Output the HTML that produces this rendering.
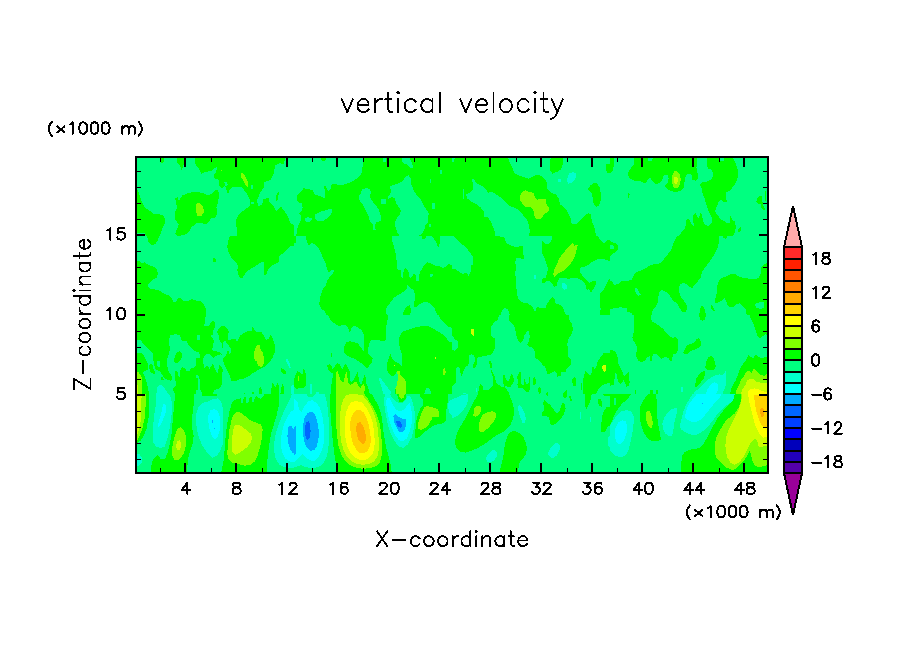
<!DOCTYPE html><html><head><meta charset="utf-8"><title>vertical velocity</title>
<style>html,body{margin:0;padding:0;background:#fff}svg{display:block}</style></head><body>
<svg width="904" height="654" viewBox="0 0 904 654">
<rect width="904" height="654" fill="#fff"/>
<defs>
<clipPath id="t00"><rect x="136" y="157" width="158" height="79"/></clipPath>
<clipPath id="t01"><rect x="136" y="236" width="158" height="79"/></clipPath>
<clipPath id="t02"><rect x="136" y="315" width="158" height="79"/></clipPath>
<clipPath id="t03"><rect x="136" y="394" width="158" height="79"/></clipPath>
<clipPath id="t10"><rect x="294" y="157" width="158" height="79"/></clipPath>
<clipPath id="t11"><rect x="294" y="236" width="158" height="79"/></clipPath>
<clipPath id="t12"><rect x="294" y="315" width="158" height="79"/></clipPath>
<clipPath id="t13"><rect x="294" y="394" width="158" height="79"/></clipPath>
<clipPath id="t20"><rect x="452" y="157" width="158" height="79"/></clipPath>
<clipPath id="t21"><rect x="452" y="236" width="158" height="79"/></clipPath>
<clipPath id="t22"><rect x="452" y="315" width="158" height="79"/></clipPath>
<clipPath id="t23"><rect x="452" y="394" width="158" height="79"/></clipPath>
<clipPath id="t30"><rect x="610" y="157" width="158" height="79"/></clipPath>
<clipPath id="t31"><rect x="610" y="236" width="158" height="79"/></clipPath>
<clipPath id="t32"><rect x="610" y="315" width="158" height="79"/></clipPath>
<clipPath id="t33"><rect x="610" y="394" width="158" height="79"/></clipPath>
</defs>
<g shape-rendering="crispEdges">
<g clip-path="url(#t00)">
<rect x="136" y="157" width="158" height="79" fill="#00ff80"/>
<polygon fill="#00ff00" points="136.0,189.3 138.1,190.2 139.8,196.3 142.1,202.4 144.7,207.7 149.1,210.3 153.5,213.8 162.2,214.7 164.8,218.2 164.8,223.4 162.2,228.7 160.5,233.9 159.6,237.4 146.5,237.4 144.7,233.0 136.0,233.0"/>
<polygon fill="#00ff00" points="175.3,198.1 177.9,197.2 178.8,200.7 182.3,195.5 188.4,192.8 195.4,192.0 202.4,192.8 207.7,195.5 212.0,193.7 215.5,190.2 218.1,189.3 219.0,194.6 218.1,202.4 216.4,207.7 217.3,212.9 215.5,217.3 211.2,218.2 208.5,222.5 205.0,224.3 200.7,222.5 196.3,223.4 191.9,226.9 188.4,232.2 184.9,234.8 177.9,236.0 175.3,233.9 177.1,228.7 178.8,224.3 175.3,219.9 174.8,212.9 177.1,207.7 175.8,202.4"/>
<polygon fill="#80ff00" points="196.8,203.3 199.8,202.8 203.3,206.8 203.8,212.1 201.5,215.6 197.2,215.6 195.8,211.2 195.8,206.8"/>
<polygon fill="#00ff00" points="160.1,157.0 164.0,157.0 163.6,162.2 161.3,163.6 160.1,161.4"/>
<polygon fill="#00ff00" points="176.5,157.0 185.3,157.0 184.9,162.2 183.2,165.7 181.8,170.1 179.7,165.7 177.6,163.1"/>
<polygon fill="#00ff00" points="194.6,157.0 195.4,164.0 198.0,167.5 201.5,173.6 205.0,171.9 211.2,171.0 215.5,167.5 216.7,166.6 216.4,171.9 213.8,174.5 214.7,178.8 218.5,179.7 219.0,185.8 222.5,188.5 225.1,185.8 226.9,191.1 227.8,194.6 229.5,190.2 231.3,187.6 240.9,186.7 243.5,189.3 246.1,192.8 248.7,197.2 250.5,201.6 249.6,205.9 246.1,208.6 241.7,212.1 238.2,215.6 235.6,220.8 236.5,226.9 237.4,232.2 236.5,237.4 295.0,237.4 295.0,226.0 289.8,222.5 288.1,216.4 284.6,211.2 281.1,206.8 278.4,209.4 275.8,211.2 274.1,206.8 269.7,202.4 268.8,198.1 263.6,198.9 261.8,205.1 258.3,205.9 256.6,200.7 258.3,197.2 260.1,192.8 263.6,187.6 264.5,182.3 270.6,179.7 274.1,172.7 274.9,165.7 279.3,163.1 283.7,164.0 285.4,157.0"/>
<polygon fill="#00ff80" points="224.3,182.3 227.2,182.3 227.8,185.3 225.1,185.8"/>
<polygon fill="#00ff80" points="251.4,185.0 252.8,185.0 252.8,189.3 251.4,189.3"/>
<polygon fill="#00ff80" points="251.4,201.6 254.0,201.6 254.0,204.2 251.4,204.2"/>
<polygon fill="#80ff00" points="240.9,173.1 243.0,172.7 246.1,178.0 247.9,182.3 247.9,186.7 246.1,186.4 244.0,181.5 241.4,177.6"/>
<polygon fill="#80ff00" points="220.8,169.6 222.0,169.6 222.0,171.0 220.8,171.0"/>
<polygon fill="#00ff00" points="275.8,197.2 277.9,192.0 279.0,192.8 277.6,199.8 275.8,201.6"/>
</g>
<g clip-path="url(#t01)">
<rect x="136" y="236" width="158" height="79" fill="#00ff80"/>
<polygon fill="#00ff00" points="146.5,235.1 159.1,235.1 157.8,240.4 155.2,244.4 151.7,244.7 148.6,242.1"/>
<polygon fill="#00ff00" points="135.1,260.5 139.5,261.3 142.1,263.1 144.7,262.2 148.2,264.8 153.5,266.6 157.0,269.2 157.8,273.6 156.6,277.9 152.6,279.7 150.0,282.3 147.9,284.9 149.1,288.4 153.5,289.3 158.7,290.2 164.0,293.7 169.2,295.4 171.8,298.9 173.6,302.1 176.2,301.5 177.9,298.6 180.6,298.0 183.2,300.7 188.4,301.0 191.9,299.3 195.4,300.3 200.7,301.5 204.2,305.0 205.9,309.4 205.9,316.4 135.1,316.4"/>
<polygon fill="#00ff00" points="212.4,258.7 214.7,257.8 216.4,259.6 215.5,261.9 212.9,261.9"/>
<polygon fill="#00ff00" points="230.4,235.1 295.0,235.1 295.0,245.6 289.8,246.5 286.3,250.0 282.8,253.5 279.3,256.1 279.0,261.3 275.8,264.0 272.3,264.8 269.7,267.5 267.4,271.0 266.2,275.3 264.5,275.3 263.6,271.0 263.9,262.2 261.0,262.2 257.5,264.8 253.1,267.5 248.7,270.1 245.2,273.6 242.6,277.9 240.0,277.6 237.7,273.6 237.4,269.2 238.2,265.7 235.6,262.2 233.0,259.6 230.4,256.1 228.3,251.7 227.2,246.5 228.3,240.4"/>
</g>
<g clip-path="url(#t02)">
<rect x="136" y="315" width="158" height="79" fill="#00ff80"/>
<polygon fill="#00ff00" points="135.1,314.1 205.9,314.1 205.0,320.2 204.2,325.8 207.7,326.5 210.3,323.7 212.9,321.1 215.5,322.0 214.7,327.2 212.6,331.6 212.9,337.7 213.8,343.8 212.9,349.1 208.5,352.6 205.0,355.2 203.3,359.6 202.8,365.7 197.2,365.7 195.1,359.6 195.1,354.3 196.3,349.1 198.0,344.7 196.3,341.2 197.2,336.8 195.4,338.6 192.8,343.0 190.2,346.5 187.6,343.8 185.8,341.2 181.4,338.6 178.8,335.1 175.3,334.2 171.0,335.6 168.9,339.5 168.3,343.0 165.7,345.6 162.2,347.3 158.7,349.1 155.2,352.6 152.6,356.1 148.2,354.3 144.7,351.7 141.2,345.6 138.6,341.2 135.1,339.5"/>
<polygon fill="#00ff00" points="135.1,350.0 139.5,352.6 143.0,355.2 144.7,359.6 145.1,365.7 144.4,370.9 142.1,372.7 139.5,371.8 135.1,370.9"/>
<polygon fill="#00ff00" points="149.1,364.8 151.7,363.9 153.5,367.4 155.2,372.7 152.6,373.6 150.0,370.9"/>
<polygon fill="#00ff00" points="153.5,357.8 157.0,360.4 159.6,362.2 158.7,366.6 156.1,365.7 154.4,363.1"/>
<polygon fill="#00ff00" points="174.8,352.6 177.9,350.8 181.1,351.7 182.3,356.1 181.1,360.4 177.9,363.1 174.5,362.5 173.6,357.8"/>
<polygon fill="#00ff00" points="178.8,367.4 181.8,366.6 185.8,368.3 188.4,371.8 191.6,369.2 193.7,365.7 196.3,363.1 197.5,367.4 197.2,375.3 197.5,384.9 198.0,395.4 173.6,395.4 173.6,386.7 175.8,382.8 177.1,377.0 177.9,372.7"/>
<polygon fill="#00ff00" points="199.8,395.4 199.3,384.9 199.8,376.2 201.0,370.9 203.3,367.4 205.6,368.3 208.0,365.7 210.3,367.4 212.6,364.3 214.3,367.4 215.5,371.8 217.8,372.7 219.0,368.3 220.2,365.7 222.5,367.4 223.0,374.4 222.0,380.5 219.9,384.9 215.5,388.4 212.9,391.9 212.6,395.4"/>
<polygon fill="#00ff00" points="217.3,331.6 219.0,328.1 222.5,325.8 226.0,326.9 228.6,330.7 228.3,337.7 226.9,340.9 224.3,342.1 224.3,354.3 223.0,354.3 223.0,341.2 220.8,339.5 218.1,336.0"/>
<polygon fill="#00ff00" points="226.9,341.2 229.5,340.3 233.9,339.5 237.4,337.7 240.9,335.1 245.2,332.1 247.9,331.1 251.4,331.6 252.8,326.4 254.0,329.0 256.6,332.5 261.0,331.6 263.6,335.1 266.2,340.3 268.8,338.6 270.6,335.1 272.3,337.7 274.1,342.1 275.5,347.3 274.4,353.5 272.0,358.7 268.8,363.1 265.3,366.6 261.0,368.3 256.6,370.9 252.2,374.4 247.9,377.0 242.6,378.8 236.5,380.5 232.1,379.7 229.5,375.3 226.9,369.2 224.3,363.9 223.0,359.6 225.1,356.1 226.9,352.6 228.6,349.1 230.4,345.6 228.3,343.8"/>
<polygon fill="#80ff00" points="255.7,347.3 257.5,345.1 259.7,345.1 260.4,349.1 262.7,352.6 263.9,357.8 263.6,363.9 261.5,367.1 258.3,365.7 256.6,361.3 254.5,357.8 254.5,352.6"/>
<polygon fill="#00ff00" points="281.1,368.3 283.7,369.2 286.0,371.8 285.4,374.4 282.8,373.6 281.1,370.9"/>
<polygon fill="#00ff00" points="258.3,395.4 259.2,388.4 260.4,386.7 261.8,389.3 262.2,395.4"/>
<polygon fill="#00ff00" points="270.6,395.4 271.5,388.4 272.3,382.3 273.7,384.0 274.9,387.5 276.7,384.9 277.9,382.3 279.0,386.7 278.4,395.4"/>
<polygon fill="#00ff00" points="280.2,395.4 281.1,388.4 282.5,384.0 283.7,386.7 284.2,395.4"/>
<polygon fill="#00ffcc" points="285.4,357.8 287.7,359.6 289.8,363.1 290.7,367.4 289.5,368.3 287.7,364.8 286.0,361.3"/>
<polygon fill="#00ffcc" points="291.2,385.8 295.0,384.0 295.0,395.4 290.7,395.4"/>
<polygon fill="#00ff00" points="135.1,370.9 142.1,372.7 144.7,376.2 146.1,381.4 146.8,388.4 147.4,395.4 135.1,395.4"/>
<polygon fill="#80ff00" points="135.1,372.3 138.6,373.6 140.9,377.0 142.1,382.3 142.1,388.4 141.2,395.4 135.1,395.4"/>
<polygon fill="#ccff00" points="135.1,384.0 138.1,384.9 139.1,389.3 138.6,395.4 135.1,395.4"/>
<polygon fill="#00ffcc" points="157.8,385.8 161.3,384.6 164.0,386.7 165.4,391.0 164.8,395.4 157.3,395.4"/>
<polygon fill="#00ff00" points="160.5,377.0 163.1,377.9 164.0,380.5 161.3,381.1"/>
</g>
<g clip-path="url(#t03)">
<rect x="136" y="394" width="158" height="79" fill="#00ff80"/>
<polygon fill="#00ff00" points="135.1,393.1 149.5,393.1 149.2,406.2 148.5,418.3 146.4,429.3 143.4,436.6 140.4,440.8 136.7,443.3 135.1,444.7"/>
<polygon fill="#00ff00" points="175.3,393.1 194.6,393.1 194.0,401.0 193.3,408.0 192.3,415.0 191.6,422.0 192.3,429.0 193.7,435.9 192.8,442.9 190.5,449.9 188.4,456.9 187.6,463.9 187.0,474.4 150.9,474.4 151.4,465.7 152.6,460.4 155.2,456.9 157.8,455.2 160.5,458.7 164.8,459.0 167.5,453.4 169.2,446.4 170.6,439.4 171.8,432.5 172.4,425.5 172.7,418.5 173.6,411.5 174.1,404.5 174.8,399.2"/>
<polygon fill="#00ff00" points="201.5,393.1 217.3,393.1 216.4,396.1 202.4,396.4"/>
<polygon fill="#00ff00" points="231.3,404.5 233.0,401.0 236.5,399.2 240.5,398.4 241.4,402.7 243.0,402.7 243.7,397.5 245.8,397.1 246.5,402.7 248.2,403.6 249.3,397.8 251.4,396.6 252.2,401.9 253.5,402.4 254.8,397.5 256.6,395.7 258.3,397.5 260.4,399.2 262.7,396.6 265.3,393.1 279.3,393.1 279.0,404.5 276.7,415.0 274.1,423.7 271.5,432.5 269.7,441.2 268.5,449.9 267.4,460.4 267.1,474.4 220.8,474.4 223.0,463.9 224.3,455.2 224.8,446.4 225.5,437.7 226.5,429.0 227.8,420.2 229.5,411.5"/>
<polygon fill="#80ff00" points="135.1,393.1 145.8,393.1 145.6,406.2 144.6,418.3 142.2,429.3 139.1,436.6 136.7,441.5 135.1,442.1"/>
<polygon fill="#80ff00" points="177.9,428.1 181.1,427.2 183.5,429.8 185.3,434.2 186.3,440.3 185.8,446.4 184.1,452.6 181.4,456.9 177.9,460.4 174.5,459.5 172.4,456.0 171.8,450.8 172.7,444.7 174.1,438.6 175.8,432.5"/>
<polygon fill="#80ff00" points="235.6,412.4 239.1,411.5 242.6,414.1 247.0,417.6 251.4,421.1 256.6,422.8 261.0,424.6 262.7,429.0 262.2,435.9 261.0,442.9 259.2,449.9 257.5,456.0 254.8,461.3 250.5,464.8 244.4,465.7 238.2,463.9 232.1,463.0 228.6,459.5 227.2,454.3 227.8,446.4 228.6,437.7 229.5,429.0 231.3,421.1 233.0,415.8"/>
<polygon fill="#ccff00" points="135.1,394.9 141.6,395.4 141.2,406.2 141.0,418.3 139.7,426.9 137.3,434.8 135.1,436.8"/>
<polygon fill="#ccff00" points="177.1,441.2 179.7,440.3 181.4,442.9 181.1,447.3 179.3,449.9 177.1,449.6 175.8,446.4"/>
<polygon fill="#ccff00" points="234.8,425.5 238.2,424.6 241.7,426.3 246.1,429.8 250.5,433.3 252.2,437.7 250.5,442.9 247.0,447.3 242.6,450.8 238.2,453.4 234.8,454.8 232.5,451.7 231.8,445.6 232.1,437.7 233.0,430.7"/>
<polygon fill="#00ffcc" points="156.3,393.1 168.3,393.1 171.0,398.4 172.4,404.5 171.8,413.2 170.6,422.0 169.2,430.7 167.1,439.4 164.8,446.4 160.5,448.2 156.1,446.4 153.1,442.1 152.6,435.1 153.1,427.2 153.8,418.5 154.9,410.6 156.1,403.6"/>
<polygon fill="#00ffcc" points="196.3,413.2 198.9,406.2 203.3,402.7 207.7,401.9 212.9,399.2 218.1,398.4 221.6,402.7 223.0,409.7 223.4,418.5 223.0,427.2 223.4,435.9 222.5,444.7 219.9,451.7 216.4,456.0 212.9,457.8 209.4,455.2 205.9,450.8 202.4,445.6 199.3,438.6 197.2,430.7 195.8,422.0"/>
<polygon fill="#00ffcc" points="295.0,393.1 292.0,393.1 290.2,398.9 287.2,405.0 284.1,411.0 281.1,418.3 278.1,425.6 275.6,434.1 274.2,442.7 274.2,451.2 275.6,458.5 279.3,464.6 284.1,467.0 289.0,468.2 295.0,468.5"/>
<polygon fill="#00ffcc" points="135.1,453.4 139.5,454.3 142.1,457.8 141.6,463.0 138.6,465.7 135.1,466.0"/>
<polygon fill="#00ffff" points="162.9,403.7 166.5,405.0 165.9,412.2 162.9,419.6 160.4,425.6 158.2,426.9 158.6,422.0 161.0,414.7 162.3,408.6"/>
<polygon fill="#00ffff" points="210.3,410.6 213.8,408.9 217.3,410.6 219.5,415.8 220.2,422.8 219.9,429.8 218.1,435.9 215.5,439.1 212.9,437.7 210.8,433.3 209.1,427.2 208.0,420.2 208.5,415.0"/>
<polygon fill="#00ffff" points="295.0,409.8 291.4,411.0 288.4,415.3 285.4,420.8 282.9,428.1 281.1,436.6 280.7,445.1 282.3,452.4 285.4,458.5 289.6,461.5 295.0,462.2"/>
<polygon fill="#00aaff" points="295.0,427.7 293.3,428.7 291.2,425.9 289.0,425.4 287.8,429.3 287.4,436.6 288.4,443.9 290.2,449.4 292.7,453.0 295.0,454.3"/>
<polygon fill="#00aaff" points="211.5,420.2 212.9,420.2 212.9,422.8 211.5,422.8"/>
<polygon fill="#00aaff" points="213.8,427.6 215.0,427.6 215.0,429.0 213.8,429.0"/>
</g>
<g clip-path="url(#t10)">
<rect x="294" y="157" width="158" height="79" fill="#00ff00"/>
<polygon fill="#00ff80" points="293.1,157.0 363.0,157.0 362.5,167.5 361.3,174.5 357.8,178.0 353.4,180.6 348.2,183.2 342.9,185.0 337.7,184.6 331.6,184.1 330.7,188.5 328.1,191.1 325.5,185.8 324.1,186.7 325.1,192.0 324.6,198.1 320.2,196.3 315.0,194.6 312.4,190.2 308.9,189.3 303.6,188.1 301.0,192.0 297.5,194.6 297.1,200.7 299.2,203.3 301.9,202.8 302.7,207.7 301.3,211.5 298.4,213.3 301.3,216.1 300.6,220.8 297.8,226.0 297.1,231.3 295.7,237.4 293.1,237.4"/>
<polygon fill="#00ff00" points="320.2,157.0 326.3,157.0 325.5,160.5 322.0,160.8"/>
<polygon fill="#00ff80" points="315.0,214.7 318.5,212.9 322.0,211.2 326.3,210.3 329.8,208.6 331.6,208.6 332.5,212.1 329.8,215.6 327.2,218.2 323.7,220.8 318.5,221.3 315.3,219.0"/>
<polygon fill="#00ff80" points="304.5,218.2 308.0,217.3 311.5,218.2 312.4,219.9 308.9,222.0 305.4,221.3"/>
<polygon fill="#00ff80" points="362.2,189.3 365.7,188.1 369.2,188.8 370.9,192.0 370.0,197.2 372.7,201.6 376.1,205.9 378.8,209.4 380.5,214.7 380.5,220.8 376.1,222.5 374.7,226.0 375.8,230.4 373.5,229.5 372.7,224.3 370.0,221.7 368.8,216.4 366.0,211.2 363.9,206.8 361.8,203.3 359.0,199.8 359.5,195.5 361.3,192.0"/>
<polygon fill="#00ff80" points="380.9,198.6 385.8,198.6 385.8,203.8 380.9,203.8"/>
<polygon fill="#00ff80" points="405.9,176.2 408.5,175.4 410.8,178.8 411.5,185.0 413.7,190.2 416.3,194.6 420.7,198.9 423.3,204.2 426.0,209.4 428.6,212.9 428.2,221.7 425.1,226.0 424.2,230.4 421.6,233.9 416.3,237.4 400.6,237.4 397.1,232.2 395.4,226.9 395.0,221.7 397.1,217.3 399.7,214.7 401.0,210.3 398.9,207.7 396.2,203.3 394.5,198.1 391.9,197.2 388.4,198.9 387.5,197.2 390.1,194.6 391.0,190.2 389.8,186.7 393.6,185.0 398.9,183.2 403.2,180.6"/>
<polygon fill="#00ff80" points="382.3,157.0 386.6,157.0 386.3,161.4 383.5,161.9"/>
<polygon fill="#00ff80" points="401.5,157.0 408.5,157.0 411.1,160.5 412.8,165.7 413.7,168.4 410.2,167.5 407.3,164.3 403.8,163.6 402.0,161.4"/>
<polygon fill="#00ff80" points="439.9,170.1 441.7,170.1 441.7,173.6 439.9,173.6"/>
<polygon fill="#00ff80" points="429.5,178.8 431.2,178.8 431.2,183.2 429.5,183.2"/>
<polygon fill="#00ff80" points="432.1,203.3 434.7,203.3 434.7,209.4 432.1,209.4"/>
<polygon fill="#00ff80" points="428.6,224.3 431.2,224.3 431.2,226.9 428.6,226.9"/>
</g>
<g clip-path="url(#t11)">
<rect x="294" y="236" width="158" height="79" fill="#00ff00"/>
<polygon fill="#00ff80" points="293.1,243.0 295.7,243.0 295.7,235.1 306.2,235.1 306.6,241.2 308.9,245.6 311.5,243.0 315.0,243.9 318.5,248.2 321.1,252.6 322.8,257.8 325.5,263.1 327.2,269.2 329.0,272.7 331.6,270.1 333.8,270.1 333.3,273.6 329.8,277.1 327.2,280.6 325.5,285.8 322.8,289.3 321.1,293.7 319.9,298.9 319.3,304.2 321.1,308.5 324.6,311.2 327.2,316.4 293.1,316.4"/>
<polygon fill="#00ff80" points="391.9,235.1 421.6,235.1 422.5,238.6 425.1,239.5 426.8,235.1 430.3,235.1 433.8,238.6 436.4,243.0 438.2,248.2 439.9,243.0 439.9,235.1 453.0,235.1 453.0,265.7 448.7,264.0 446.1,266.6 442.6,268.3 439.1,265.7 435.6,265.7 432.1,264.0 427.7,262.2 424.2,264.8 422.5,268.3 419.8,271.8 419.0,277.1 418.4,281.4 416.3,281.4 415.5,275.3 413.7,273.6 411.1,277.9 409.4,277.1 408.5,271.8 405.9,268.3 404.1,269.2 403.2,273.6 402.7,277.9 401.0,276.2 400.6,270.1 397.1,269.2 397.5,264.0 396.2,258.7 395.4,252.6 394.0,246.5 392.2,241.2"/>
<polygon fill="#00ff80" points="386.6,316.4 386.3,308.5 388.4,305.0 391.0,301.5 394.5,297.2 398.9,294.6 403.2,291.9 406.7,289.3 407.6,284.9 410.2,287.6 413.7,290.2 414.9,294.6 414.6,300.7 413.7,307.7 416.3,306.8 419.8,304.2 424.2,302.1 427.7,302.4 432.1,305.0 434.7,308.5 436.4,312.9 437.3,316.4"/>
<polygon fill="#00ff00" points="402.4,316.4 404.1,310.3 406.7,306.8 409.4,305.0 410.8,309.4 410.2,316.4"/>
<polygon fill="#00ff80" points="430.0,274.1 432.9,273.6 432.9,276.2 430.3,277.1"/>
</g>
<g clip-path="url(#t12)">
<rect x="294" y="315" width="158" height="79" fill="#00ff80"/>
<polygon fill="#00ff00" points="328.1,314.1 388.4,314.1 387.5,320.2 386.3,325.5 385.8,331.6 386.3,337.7 384.9,341.2 381.0,340.9 376.1,339.5 371.8,339.5 369.5,343.0 368.3,348.2 367.8,352.6 364.8,354.3 363.9,346.5 364.3,339.5 363.6,334.2 361.3,329.9 357.8,327.2 354.3,325.5 351.3,328.1 349.9,332.5 348.5,329.0 346.4,325.5 342.9,324.6 339.4,326.4 335.1,323.7 331.6,321.1 329.0,317.6"/>
<polygon fill="#00ff00" points="346.4,342.1 349.9,341.2 354.3,342.1 358.3,343.8 361.3,348.2 363.9,351.7 367.4,352.6 370.9,356.1 372.7,358.7 371.8,362.2 369.2,365.7 367.1,368.3 364.3,366.0 361.3,363.1 357.8,360.8 354.3,358.7 349.9,356.9 346.1,355.2 343.8,351.7 344.3,346.5"/>
<polygon fill="#00ff00" points="438.2,314.1 453.0,314.1 453.0,328.1 447.8,326.4 444.3,322.9 440.8,319.4"/>
<polygon fill="#00ff00" points="398.9,337.7 402.4,331.6 407.6,329.9 412.8,328.1 418.1,326.9 423.3,325.5 428.6,326.4 433.8,329.0 438.2,331.6 442.6,334.2 446.1,337.7 448.7,341.2 453.0,343.0 453.0,395.4 431.2,395.4 430.3,390.2 428.6,388.1 426.0,388.4 424.7,391.9 424.2,395.4 395.4,395.4 395.4,388.4 397.1,384.0 398.0,377.9 397.1,370.9 394.5,375.3 391.9,376.2 389.3,373.6 387.0,370.9 386.6,365.7 388.0,360.4 389.3,356.1 390.5,353.5 391.9,357.8 394.5,361.3 398.9,363.1 401.5,365.7 402.4,360.4 402.0,354.3 400.3,349.1 398.9,343.8"/>
<polygon fill="#80ff00" points="397.1,371.3 399.7,371.3 400.6,375.3 403.8,378.3 405.9,381.4 406.2,388.4 405.9,395.4 396.2,395.4 395.4,388.4 397.1,384.0 398.0,377.9"/>
<polygon fill="#80ff00" points="442.9,369.2 444.7,368.3 445.7,371.8 445.2,375.3 442.9,374.4"/>
<polygon fill="#ccff00" points="434.7,356.9 435.9,356.9 435.9,358.7 434.7,358.7"/>
<polygon fill="#ccff00" points="393.6,364.8 395.0,364.8 395.0,366.0 393.6,366.0"/>
<polygon fill="#00ff00" points="327.2,365.7 329.8,363.9 331.6,366.6 332.8,369.2 335.1,365.7 336.8,363.1 339.8,363.9 340.8,367.4 342.9,369.2 344.3,364.8 346.1,364.3 347.8,367.4 349.6,370.9 349.9,377.9 350.8,382.3 353.4,380.5 356.0,375.3 357.3,370.9 358.3,375.3 359.0,381.4 361.3,384.9 363.0,379.7 364.3,374.4 365.7,377.9 366.5,384.0 368.3,388.4 370.0,395.4 330.4,395.4 331.1,388.4 331.6,383.2 332.5,377.9 333.3,373.6 330.7,372.7 328.1,370.1"/>
<polygon fill="#80ff00" points="335.6,372.7 337.3,370.9 339.1,375.3 340.8,380.5 343.3,382.3 345.0,376.2 346.1,370.9 347.3,375.3 347.8,382.3 349.9,384.9 353.4,383.2 356.0,381.4 357.8,384.9 360.1,388.4 362.5,384.9 364.3,384.0 364.8,389.3 363.9,395.4 335.9,395.4 335.6,388.4 335.9,381.4"/>
<polygon fill="#00ff00" points="293.1,381.4 295.7,374.4 297.5,371.3 300.1,372.7 302.4,374.4 303.1,369.2 304.5,370.1 305.9,374.4 306.2,381.4 305.4,386.7 302.7,388.4 299.2,388.1 296.6,389.3 293.1,384.9"/>
<polygon fill="#80ff00" points="297.8,376.2 299.2,376.2 299.2,380.5 297.8,380.5"/>
<polygon fill="#00ff00" points="330.7,352.6 332.1,352.6 332.1,356.9 330.7,356.9"/>
<polygon fill="#00ffcc" points="378.8,377.9 380.5,377.6 383.1,381.4 385.8,384.9 388.4,388.4 391.0,391.9 391.9,395.4 383.1,395.4 382.3,389.3 380.5,384.0 379.3,380.5"/>
<polygon fill="#00ffcc" points="310.1,384.0 311.8,384.0 312.4,395.4 309.7,395.4"/>
<polygon fill="#00ffcc" points="315.8,391.9 319.3,391.9 319.3,395.4 315.8,395.4"/>
</g>
<g clip-path="url(#t13)">
<rect x="294" y="394" width="158" height="79" fill="#00ff80"/>
<polygon fill="#00ff00" points="329.8,393.1 371.8,393.1 374.4,399.2 377.9,404.5 380.5,411.5 382.3,420.2 383.1,429.0 384.5,437.7 385.8,446.4 388.4,455.2 390.5,463.9 391.9,474.4 337.7,474.4 336.3,465.7 335.1,458.7 333.8,449.9 332.8,441.2 332.1,432.5 331.1,422.0 330.4,411.5 329.8,402.7"/>
<polygon fill="#80ff00" points="335.9,393.1 363.9,393.1 369.2,401.0 373.5,408.0 377.0,415.0 379.6,423.7 381.0,432.5 381.7,441.2 382.3,449.9 381.4,456.9 379.6,463.0 375.3,466.5 369.2,468.3 362.2,468.8 355.2,467.4 349.1,464.8 344.7,460.4 341.2,454.3 338.6,446.4 337.3,437.7 336.5,429.0 335.9,420.2 335.9,411.5 335.9,402.7"/>
<polygon fill="#ccff00" points="346.4,394.9 353.4,394.0 362.2,394.9 367.4,401.0 371.8,408.0 374.7,415.0 377.0,423.7 378.2,432.5 378.8,441.2 378.8,449.9 377.5,456.0 374.4,461.3 369.2,463.9 363.0,464.8 356.9,463.9 351.7,461.3 347.3,456.9 343.8,450.8 341.5,442.9 340.3,434.2 339.8,425.5 339.8,416.7 340.8,408.0 342.9,400.1"/>
<polygon fill="#ffff00" points="351.7,401.9 356.9,401.0 362.2,402.7 366.5,408.0 370.0,415.0 372.7,422.8 374.0,431.6 374.7,440.3 374.4,448.2 372.3,454.3 368.8,458.3 363.9,460.1 358.7,459.5 354.3,456.9 350.3,452.6 347.3,446.4 345.6,438.6 344.7,429.8 344.7,421.1 346.1,412.4 348.5,406.2"/>
<polygon fill="#ffd400" points="355.2,410.6 359.5,409.7 363.6,412.4 366.5,417.6 368.8,424.6 370.2,432.5 370.9,440.3 370.0,446.4 367.4,451.3 363.6,453.4 359.5,452.6 356.0,449.1 353.1,443.8 351.3,436.8 350.3,429.0 350.3,422.0 351.7,415.8"/>
<polygon fill="#ffaa00" points="357.8,422.8 360.4,422.3 363.0,425.5 364.8,430.7 366.0,436.8 365.7,441.2 363.9,443.8 361.3,443.3 358.7,440.3 356.9,435.1 356.0,429.0 356.6,425.1"/>
<polygon fill="#00ffcc" points="290.0,393.1 305.8,393.1 308.2,397.0 313.1,397.0 315.6,393.1 324.7,393.1 326.5,401.3 328.3,412.2 328.9,424.4 329.2,436.6 328.3,448.8 326.5,457.3 323.5,463.4 318.6,467.0 311.9,468.2 305.8,467.0 301.0,465.2 296.1,467.0 290.0,468.2"/>
<polygon fill="#00ffff" points="290.0,401.3 293.7,398.9 297.3,401.3 299.1,409.8 301.6,412.2 304.6,406.2 308.2,401.3 311.9,400.1 316.2,402.5 319.8,407.4 322.2,414.7 323.5,424.4 324.1,434.1 323.5,443.9 321.6,451.2 318.6,457.3 314.3,460.9 309.5,460.3 305.2,456.7 302.2,453.6 299.7,457.3 296.1,460.9 290.0,463.4"/>
<polygon fill="#00aaff" points="293.1,427.7 294.5,427.2 295.5,425.5 296.1,430.5 296.3,442.7 296.1,452.4 294.9,455.5 293.1,454.3"/>
<polygon fill="#00aaff" points="304.8,416.7 308.0,412.9 311.5,411.8 315.0,414.1 317.1,420.2 318.5,429.0 318.5,437.7 317.1,445.6 314.1,450.3 310.1,450.8 306.6,447.3 304.1,441.2 303.1,433.3 303.1,424.6"/>
<polygon fill="#0066ff" points="305.9,422.8 308.3,421.1 310.1,423.7 310.6,430.7 310.1,436.8 308.3,439.8 306.2,439.1 305.0,434.2 304.8,428.1"/>
<polygon fill="#00ffcc" points="384.9,393.1 389.3,393.1 391.9,397.5 395.4,401.0 399.7,403.6 403.2,402.7 405.9,399.2 407.6,395.7 410.8,396.6 412.8,402.7 414.6,411.5 414.9,420.2 413.7,429.0 411.5,437.7 407.6,444.7 403.2,447.8 398.5,446.4 394.5,441.2 391.0,434.2 388.4,426.3 386.3,417.6 384.9,408.9 384.0,401.0"/>
<polygon fill="#00ffff" points="386.6,397.5 389.8,398.4 392.2,403.6 395.4,408.9 399.7,411.5 404.1,409.7 407.3,405.4 409.4,402.7 411.1,407.1 412.0,415.0 411.5,423.7 409.7,431.6 406.7,438.6 402.7,441.5 398.9,440.3 395.0,435.1 391.9,428.1 389.3,420.2 387.5,412.4 386.3,404.5"/>
<polygon fill="#00aaff" points="393.3,415.8 395.4,414.1 398.5,416.7 402.4,418.5 405.5,419.3 405.9,424.6 405.0,429.8 402.0,432.5 398.9,431.6 396.8,428.1 394.5,422.8"/>
<polygon fill="#0066ff" points="396.2,421.6 398.5,420.6 401.0,422.3 402.0,425.5 401.0,427.6 398.5,427.2 396.8,425.1"/>
<polygon fill="#00ff00" points="414.6,437.7 415.5,429.0 416.3,420.2 418.4,413.2 420.7,408.0 423.3,404.5 422.5,399.2 419.8,395.7 419.8,393.1 447.8,393.1 447.5,402.7 446.1,411.5 445.7,420.2 444.3,422.8 440.8,423.7 436.4,424.6 432.1,426.3 428.6,429.0 425.1,431.6 421.6,435.1 418.1,437.7"/>
<polygon fill="#80ff00" points="424.2,407.1 427.7,406.2 432.1,407.1 437.3,408.9 439.1,411.5 438.7,416.7 435.9,417.6 432.9,416.7 431.2,420.2 428.6,424.6 425.1,428.1 421.6,429.8 418.4,429.0 417.7,425.5 419.0,420.2 420.7,415.0 422.5,410.6"/>
<polygon fill="#00ffcc" points="448.7,401.0 453.0,399.2 453.0,415.8 449.6,413.2 448.2,408.0"/>
<polygon fill="#00ff00" points="397.1,393.1 406.7,393.1 405.9,398.4 403.2,401.9 399.7,401.9 398.0,398.4"/>
<polygon fill="#80ff00" points="398.9,393.1 405.0,393.1 403.8,397.8 401.0,398.9 399.4,396.6"/>
</g>
<g clip-path="url(#t20)">
<rect x="452" y="157" width="158" height="79" fill="#00ff00"/>
<polygon fill="#00ff80" points="472.1,179.7 473.8,178.8 476.5,183.2 481.7,185.8 486.1,189.3 487.8,192.8 492.2,192.0 496.6,194.6 501.8,198.1 506.2,202.4 509.7,205.9 514.9,207.7 519.3,210.3 522.8,214.7 527.2,219.9 528.9,225.2 529.8,230.4 528.9,237.4 494.8,237.4 494.8,232.2 493.1,226.9 490.5,220.8 487.8,217.3 483.8,217.3 483.5,211.2 480.8,207.7 476.5,204.2 471.2,201.6 466.9,198.1 466.3,194.6 469.5,192.8 473.3,189.3 473.0,185.0"/>
<polygon fill="#00ff80" points="507.9,157.0 509.7,162.2 512.3,167.5 514.0,172.7 518.4,175.4 523.7,177.1 528.9,178.8 533.3,176.2 536.8,174.5 540.3,175.4 543.8,178.0 546.4,181.5 547.3,188.5 551.6,192.8 556.0,194.6 559.0,198.9 560.0,204.2 564.7,207.7 568.2,212.9 570.8,218.2 571.7,224.3 576.1,224.3 580.5,219.9 584.0,216.4 588.3,212.9 590.9,214.7 591.8,221.7 594.4,226.9 596.2,237.4 611.0,237.4 611.0,157.0"/>
<polygon fill="#00ff80" points="462.8,189.3 464.2,189.3 464.2,198.9 462.8,198.9"/>
<polygon fill="#00ff80" points="452.0,158.4 454.6,158.4 454.1,162.2 452.0,162.2"/>
<polygon fill="#00ff00" points="550.8,157.0 563.0,157.0 563.0,164.0 561.2,169.2 556.9,171.9 552.5,173.6 550.2,171.0 549.9,164.0"/>
<polygon fill="#00ff00" points="587.5,189.3 590.1,185.8 593.6,183.2 596.7,183.2 599.7,187.6 600.9,193.7 600.6,200.7 598.8,205.9 596.2,206.8 593.6,203.3 592.7,198.1 591.8,192.8 589.2,191.1"/>
<polygon fill="#00ff00" points="606.2,164.0 611.0,164.0 611.0,173.6 607.6,172.7 605.8,169.2"/>
<polygon fill="#00ffcc" points="569.1,173.6 572.6,172.4 575.7,172.7 576.1,176.2 574.3,180.6 571.7,183.2 568.2,183.6 567.0,180.6 567.7,177.1"/>
<polygon fill="#00ffcc" points="558.3,178.8 561.2,178.8 561.2,181.5 558.3,181.5"/>
<polygon fill="#80ff00" points="519.8,196.3 521.9,192.0 525.4,190.2 528.9,192.0 533.3,192.8 535.0,197.2 537.6,199.8 541.1,198.6 545.5,198.9 546.4,204.2 549.0,207.7 548.5,211.2 544.6,213.8 542.0,217.3 539.4,219.6 535.9,219.0 534.1,214.7 533.3,209.4 530.7,206.8 525.4,207.3 522.8,204.2 520.5,200.7"/>
</g>
<g clip-path="url(#t21)">
<rect x="452" y="236" width="158" height="79" fill="#00ff00"/>
<polygon fill="#00ff80" points="451.1,235.1 454.6,236.9 458.1,241.2 465.1,246.5 469.5,251.7 472.6,256.1 473.3,262.2 472.6,264.8 471.2,265.7 470.9,271.0 468.6,275.8 466.0,272.7 462.5,274.1 459.0,271.8 455.5,269.2 451.1,268.3"/>
<polygon fill="#00ff80" points="495.7,235.1 504.4,237.7 506.2,243.0 511.4,245.6 517.5,247.4 519.3,246.1 522.8,246.5 523.3,253.5 524.5,259.6 521.9,258.7 516.7,257.8 515.3,261.3 515.8,267.5 515.3,273.6 515.8,279.7 516.3,286.7 517.0,293.7 518.4,298.9 521.9,302.4 527.2,303.3 531.5,305.9 534.1,309.4 535.0,313.8 535.9,308.5 537.6,307.3 542.0,308.0 545.5,307.7 547.3,303.3 549.9,299.8 553.0,296.8 554.8,299.8 555.1,303.3 558.6,304.2 562.1,305.9 563.9,310.3 566.5,316.4 599.7,316.4 600.6,309.4 600.2,304.2 599.7,298.0 600.6,292.8 603.2,290.2 605.8,285.8 607.6,281.4 611.0,277.9 611.0,262.2 605.8,259.6 600.6,258.7 596.2,259.6 591.8,262.2 589.2,264.8 584.8,266.6 580.5,267.5 579.9,271.8 582.2,275.3 585.7,279.3 589.2,282.8 591.8,281.8 594.4,280.6 596.2,281.1 595.3,285.8 593.2,289.3 590.9,292.8 589.2,289.3 586.6,289.8 585.7,285.8 584.0,282.3 580.5,279.7 577.0,277.9 572.6,277.9 568.2,278.8 563.9,277.9 559.5,277.9 557.7,281.4 556.9,285.8 554.2,286.7 551.6,283.2 549.0,280.6 546.4,281.4 543.8,283.5 541.5,282.3 542.0,278.8 545.5,277.9 547.3,273.6 547.8,268.3 546.4,264.0 544.6,258.7 542.5,253.5 541.5,249.1 542.5,244.7 542.0,240.4 546.4,244.4 549.9,243.3 552.0,239.5 552.0,235.1"/>
<polygon fill="#00ff80" points="597.1,235.1 611.0,235.1 611.0,239.8 607.6,240.4 604.4,243.3 600.6,240.4"/>
<polygon fill="#00ff80" points="500.1,316.4 501.8,311.2 504.4,308.0 507.6,309.1 509.3,312.0 509.7,316.4"/>
<polygon fill="#00ffcc" points="561.8,283.5 564.7,282.8 567.0,285.8 566.5,289.3 563.9,289.8 561.8,287.6"/>
<polygon fill="#00ffcc" points="533.8,275.3 536.2,275.3 536.2,278.8 533.8,278.8"/>
<polygon fill="#80ff00" points="572.6,243.0 574.3,245.6 577.8,245.1 576.4,250.0 575.2,255.2 572.6,260.5 569.1,265.7 564.7,270.1 559.5,272.7 556.0,275.3 553.7,277.6 553.4,273.6 554.8,268.3 556.9,264.0 559.5,257.8 563.9,252.6 566.5,249.1 570.0,245.6"/>
</g>
<g clip-path="url(#t22)">
<rect x="452" y="315" width="158" height="79" fill="#00ff80"/>
<polygon fill="#00ff00" points="451.1,314.1 499.2,314.1 497.8,319.4 493.9,322.9 491.3,326.4 490.8,332.5 491.8,336.8 494.8,338.6 495.3,345.6 493.9,350.8 491.3,354.3 487.0,356.1 482.6,356.9 478.2,357.8 476.5,361.3 476.1,365.7 473.8,368.3 473.0,363.9 474.4,359.6 473.0,355.2 471.2,353.5 469.5,356.9 469.1,362.2 466.9,365.7 464.2,369.2 462.5,373.6 461.1,377.0 460.4,372.7 459.9,368.3 458.1,366.6 455.8,369.2 455.5,375.3 456.4,381.4 453.7,384.9 451.1,386.7"/>
<polygon fill="#00ff80" points="451.1,334.2 455.1,339.5 458.1,341.2 457.6,348.2 454.6,350.8 451.1,349.1"/>
<polygon fill="#ccff00" points="471.2,329.0 473.8,329.0 473.8,335.6 471.6,335.1"/>
<polygon fill="#00ff00" points="509.7,314.1 568.8,314.1 569.5,320.2 572.2,324.6 572.9,329.9 571.7,334.2 568.8,337.7 567.4,343.0 567.7,350.0 568.2,356.1 570.8,359.6 570.8,364.8 568.2,367.4 565.6,370.1 561.2,371.3 560.0,376.2 557.7,377.0 556.5,372.7 552.5,371.8 549.9,373.6 547.3,372.7 545.5,368.3 542.9,364.8 540.3,362.2 537.3,359.6 535.0,354.3 534.1,349.1 531.5,347.3 528.9,346.5 526.8,344.7 528.9,341.2 529.8,336.0 528.9,331.6 527.2,331.1 524.5,335.1 523.3,339.5 521.0,343.0 519.3,342.1 517.0,337.7 515.8,332.5 514.9,327.2 512.3,323.7 508.8,320.2"/>
<polygon fill="#00ff00" points="488.7,361.3 491.3,362.2 492.2,367.4 491.8,370.9 493.6,375.3 496.0,379.7 498.8,383.2 501.8,385.8 504.4,387.0 506.5,390.2 507.9,395.4 478.2,395.4 479.1,388.4 480.0,384.9 482.1,384.0 483.5,387.5 484.3,390.5 487.8,390.2 491.3,388.4 494.8,387.5 497.8,385.8 495.7,383.2 493.1,378.8 490.8,374.4 489.6,369.2 489.1,364.8"/>
<polygon fill="#00ff00" points="502.3,375.3 504.1,374.1 505.3,377.0 506.2,381.4 508.3,384.0 510.6,381.4 511.4,376.2 512.8,374.4 514.0,377.9 513.5,383.2 511.4,386.7 507.9,387.0 504.4,385.8 502.7,382.3"/>
<polygon fill="#00ff00" points="517.5,375.3 518.4,370.9 520.2,371.8 520.5,377.9 521.0,384.0 522.8,386.7 524.0,381.4 525.1,378.8 526.8,382.3 528.0,377.9 529.3,379.3 528.9,384.9 527.2,387.0 523.7,388.1 520.2,387.5 518.1,384.0"/>
<polygon fill="#00ff00" points="533.3,377.9 535.0,377.0 535.5,383.2 533.8,384.0"/>
<polygon fill="#00ff00" points="537.6,395.4 538.0,388.4 539.4,386.7 540.8,389.3 541.1,395.4"/>
<polygon fill="#00ff00" points="547.3,395.4 547.8,391.9 549.9,392.8 550.2,395.4"/>
<polygon fill="#00ff00" points="563.9,395.4 564.7,391.0 566.5,390.2 567.4,395.4"/>
<polygon fill="#00ff00" points="611.0,352.6 604.1,352.6 601.4,356.1 598.8,359.6 597.1,363.1 596.2,367.4 594.4,369.2 593.2,365.7 591.8,367.4 591.5,372.7 590.1,375.3 587.5,372.7 585.7,370.9 584.0,375.3 583.1,380.5 583.4,386.7 582.7,391.9 583.1,395.4 595.3,395.4 597.9,390.2 600.6,386.7 602.7,384.9 604.9,384.0 607.6,383.2 611.0,382.3"/>
<polygon fill="#ccff00" points="602.3,366.6 603.7,364.8 605.8,364.8 606.2,369.2 604.9,371.8 602.7,371.3"/>
<polygon fill="#00ff00" points="572.6,377.9 575.2,377.0 576.4,380.5 576.1,385.8 573.5,386.3 572.2,382.3"/>
<polygon fill="#00ff00" points="580.5,383.2 582.2,383.2 582.2,390.2 580.5,390.2"/>
<polygon fill="#00ffcc" points="462.5,392.8 466.0,392.8 466.0,395.4 462.5,395.4"/>
</g>
<g clip-path="url(#t23)">
<rect x="452" y="394" width="158" height="79" fill="#00ff80"/>
<polygon fill="#00ff00" points="478.2,393.1 507.9,393.1 511.1,398.4 513.2,404.5 514.0,411.5 513.2,418.5 510.6,424.6 506.2,429.8 500.9,433.3 495.7,435.9 489.6,440.3 483.5,444.7 477.3,448.2 471.2,450.8 466.0,452.6 459.9,451.7 456.4,448.2 455.1,442.9 455.8,436.8 458.1,430.7 461.6,424.6 465.1,418.5 468.6,411.5 472.1,404.5 474.7,399.2"/>
<polygon fill="#00ff00" points="509.7,432.5 514.0,430.7 519.3,433.3 523.7,437.7 526.3,443.8 526.8,449.9 525.4,455.2 521.9,459.5 519.3,463.0 518.4,468.3 518.4,474.4 498.8,474.4 500.6,467.4 502.3,461.3 503.6,454.3 504.4,447.3 505.8,441.2 507.6,435.9"/>
<polygon fill="#00ff00" points="542.9,402.7 544.6,400.1 547.3,402.7 549.9,404.5 552.5,408.0 555.1,411.5 556.9,413.2 559.5,410.6 561.2,406.2 562.1,402.7 564.7,403.6 565.6,408.9 563.9,414.1 561.2,418.5 557.7,422.0 554.2,424.6 551.3,425.5 549.9,422.0 549.0,417.6 546.4,415.8 542.5,415.8 542.0,413.2 544.3,409.7 543.8,406.2"/>
<polygon fill="#00ff00" points="611.0,406.2 606.7,407.1 604.1,410.6 602.3,415.8 601.4,422.8 601.4,431.6 604.9,431.6 607.6,427.2 611.0,424.6"/>
<polygon fill="#00ff00" points="584.8,393.1 591.8,393.1 590.9,399.2 589.2,403.6 586.6,408.9 585.2,407.1 584.8,401.0"/>
<polygon fill="#00ff00" points="597.9,398.4 600.6,399.2 602.3,402.7 601.4,407.1 599.2,405.4 597.9,401.9"/>
<polygon fill="#00ff00" points="602.3,393.1 611.0,393.1 611.0,395.7 604.1,395.7"/>
<polygon fill="#00ff00" points="563.9,393.1 567.0,393.1 566.5,397.1 564.7,397.8"/>
<polygon fill="#00ff00" points="569.1,395.7 571.2,396.6 571.7,401.0 570.0,401.3"/>
<polygon fill="#80ff00" points="474.7,407.1 478.2,405.9 480.8,407.1 480.8,411.5 479.1,415.0 475.6,416.7 473.3,415.8 473.8,411.5"/>
<polygon fill="#80ff00" points="482.6,415.0 487.0,412.4 492.2,411.1 495.7,413.2 495.7,417.6 493.6,422.0 490.5,425.5 487.0,429.0 483.5,431.6 480.0,432.1 478.6,429.0 479.1,423.7 480.3,419.3"/>
<polygon fill="#00ffcc" points="451.1,399.2 457.2,397.5 462.5,394.9 467.7,394.9 468.1,401.0 466.0,406.2 462.5,411.5 458.1,415.8 453.7,417.6 451.1,417.6"/>
<polygon fill="#00ffcc" points="518.1,406.2 519.8,404.5 521.9,408.0 524.5,413.2 525.8,418.5 525.1,422.8 522.8,423.4 521.0,419.3 519.3,414.1 518.1,409.7"/>
<polygon fill="#00ffcc" points="486.1,457.8 487.8,454.3 491.3,450.8 494.8,449.9 497.1,452.6 496.6,456.9 493.9,460.4 490.1,462.5 487.0,461.8"/>
<polygon fill="#00ffcc" points="548.5,451.7 550.8,447.3 554.2,443.8 557.7,442.9 560.0,445.6 559.5,449.9 556.9,455.2 553.4,458.3 549.9,456.9 548.1,454.3"/>
<polygon fill="#00ffcc" points="611.0,435.1 608.4,436.8 607.6,441.2 608.4,446.4 611.0,448.2"/>
<polygon fill="#00ffcc" points="579.6,412.4 581.0,412.4 581.0,418.5 579.6,418.5"/>
<polygon fill="#00ffcc" points="590.1,416.7 591.3,416.7 591.3,422.0 590.1,422.0"/>
</g>
<g clip-path="url(#t30)">
<rect x="610" y="157" width="158" height="79" fill="#00ff80"/>
<polygon fill="#00ff00" points="609.1,157.0 614.4,157.0 614.4,164.0 612.6,171.0 609.1,173.6"/>
<polygon fill="#00ff00" points="633.6,157.0 647.6,157.0 648.1,160.5 652.3,160.5 652.8,157.0 697.4,157.0 697.0,164.0 696.5,167.5 697.4,172.7 698.3,178.0 695.6,180.6 692.1,179.7 691.3,173.6 686.9,173.6 685.2,178.0 684.3,183.2 683.4,188.5 679.9,191.1 675.5,192.0 671.2,191.1 666.8,188.5 664.2,185.8 667.7,183.2 668.6,178.8 667.7,174.5 664.2,174.5 662.4,179.7 659.8,183.2 655.4,184.1 652.8,181.5 650.2,178.0 647.6,179.7 645.8,183.2 642.3,182.3 639.7,180.6 634.5,180.6 630.1,178.8 627.5,173.6 630.1,169.2 633.6,164.9"/>
<polygon fill="#80ff00" points="672.6,174.5 674.3,171.3 677.3,171.3 679.9,174.5 680.8,179.7 679.9,185.0 677.3,188.1 673.8,187.6 672.0,183.2 672.0,178.0"/>
<polygon fill="#ccff00" points="674.3,177.1 677.3,176.6 678.2,180.6 676.4,184.1 674.3,183.2 673.8,179.7"/>
<polygon fill="#00ff00" points="707.5,157.0 719.2,157.0 719.8,160.5 724.0,160.5 724.5,157.0 732.3,157.0 735.0,162.2 737.2,167.5 738.5,173.6 737.2,179.7 735.0,184.1 732.3,187.6 729.7,191.1 725.7,192.0 726.2,197.2 726.8,201.6 723.6,202.4 721.0,199.8 718.4,202.4 716.6,206.8 714.9,211.2 717.0,214.7 719.2,217.3 721.9,219.9 726.2,222.5 729.7,222.5 729.7,216.4 730.9,215.6 732.3,219.9 735.0,221.7 735.8,226.9 735.0,232.2 732.3,237.4 677.3,237.4 681.7,232.2 685.2,228.7 686.0,222.5 686.9,218.2 689.5,219.9 691.3,223.4 693.9,226.0 693.0,219.9 693.5,214.7 695.6,212.9 697.4,217.3 699.1,218.2 700.0,212.9 701.8,213.8 702.6,219.0 704.4,224.3 707.9,226.0 711.4,223.4 712.2,219.0 710.5,214.7 707.9,209.4 706.1,203.3 704.4,198.1 702.6,193.7 701.8,188.5 700.0,185.0 702.6,182.3 707.0,181.5 711.4,179.7 713.1,175.4 712.2,170.1 707.9,168.4 707.0,164.0"/>
<polygon fill="#00ff00" points="756.8,198.9 759.4,196.3 762.1,195.5 761.7,199.8 762.9,203.3 763.8,206.8 765.6,209.4 763.8,210.3 761.2,207.7 760.7,204.2 757.7,203.3 756.5,201.6"/>
<polygon fill="#00ff00" points="765.2,191.1 766.4,191.1 766.4,201.6 765.2,200.7"/>
<polygon fill="#00ff00" points="627.8,192.8 629.6,193.7 629.2,198.6 627.8,197.5"/>
<polygon fill="#00ff00" points="739.3,227.8 741.1,226.9 740.7,230.4 738.5,232.5 737.6,231.3"/>
</g>
<g clip-path="url(#t31)">
<rect x="610" y="236" width="158" height="79" fill="#00ff80"/>
<polygon fill="#00ff00" points="609.1,240.4 613.5,242.6 617.0,243.9 618.4,247.4 617.0,250.9 613.5,253.5 609.1,257.8"/>
<polygon fill="#00ff80" points="610.0,245.1 613.8,245.6 614.4,248.6 610.0,249.6"/>
<polygon fill="#00ff00" points="677.3,235.1 719.2,235.1 718.7,243.0 717.5,248.2 714.9,253.5 711.4,258.7 707.9,264.0 704.4,268.3 701.8,272.7 700.5,277.9 697.4,281.8 693.9,285.8 692.1,288.4 689.5,286.7 686.9,284.1 683.4,283.2 679.9,284.1 679.0,288.4 679.6,293.7 681.7,298.0 684.3,301.5 686.6,305.0 686.9,309.4 685.2,312.6 681.7,311.2 679.6,307.7 677.3,303.3 673.8,301.5 671.2,298.0 669.4,294.6 665.9,291.9 662.4,290.2 659.8,291.1 658.6,295.4 658.1,301.5 656.3,305.9 652.8,309.4 651.1,316.4 632.7,316.4 631.8,312.9 627.5,312.0 626.6,308.5 620.5,307.3 615.2,308.0 609.1,309.4 609.1,279.7 612.6,282.3 614.4,284.9 617.9,284.1 621.4,281.4 627.5,281.1 631.8,279.7 633.6,275.3 637.1,271.8 642.3,270.1 646.7,267.5 651.1,264.8 656.3,264.0 660.7,263.1 664.2,258.7 667.7,254.4 671.2,250.0 672.9,244.7 675.0,240.4"/>
<polygon fill="#00ff80" points="634.5,288.1 637.1,288.4 638.8,291.9 640.6,294.6 638.8,295.8 636.2,293.7 634.8,291.1"/>
<polygon fill="#00ff00" points="769.0,262.2 763.8,264.8 761.2,267.5 760.7,273.6 758.6,277.9 755.1,279.3 749.8,278.8 743.7,277.9 739.3,277.1 735.0,273.6 731.5,273.6 727.1,276.2 723.6,277.1 720.1,278.8 718.0,283.2 716.6,287.6 717.0,292.8 715.7,297.2 714.5,300.7 715.7,303.8 718.4,302.4 721.9,300.3 724.5,298.0 726.2,300.7 727.1,305.0 729.7,307.3 733.2,306.8 736.7,304.2 740.2,303.3 742.8,305.9 745.5,309.4 747.2,316.4 769.0,316.4"/>
<polygon fill="#00ff80" points="755.9,303.3 760.3,302.1 763.5,301.5 763.5,307.7 760.3,309.1 756.5,307.7 755.1,305.6"/>
<polygon fill="#00ff00" points="721.9,235.1 727.1,235.1 726.2,239.1 723.6,238.1"/>
<polygon fill="#00ff00" points="699.1,316.4 700.0,309.4 701.2,305.9 703.5,306.8 705.3,311.2 705.8,316.4"/>
<polygon fill="#00ff00" points="710.5,305.0 711.7,304.5 714.0,308.5 714.9,311.2 713.1,311.5 711.4,308.5"/>
</g>
<g clip-path="url(#t32)">
<rect x="610" y="315" width="158" height="79" fill="#00ff80"/>
<polygon fill="#00ff00" points="633.6,314.1 651.1,314.1 651.6,321.1 654.6,322.9 658.9,325.5 663.3,329.0 666.8,333.4 670.3,336.8 673.8,338.6 675.0,336.0 677.3,338.6 678.5,343.8 678.2,350.0 676.4,353.5 672.9,354.3 672.0,360.4 670.3,361.3 668.6,357.8 665.1,356.9 661.6,358.7 659.8,356.9 657.2,354.3 653.7,353.8 652.3,356.9 651.9,361.3 650.2,360.8 649.8,356.1 647.6,356.9 645.0,360.4 641.5,362.2 638.3,360.8 636.2,356.9 635.9,353.5 637.6,350.0 636.2,344.7 633.6,341.2 632.4,337.7 633.6,332.5 634.5,325.5 633.6,320.2"/>
<polygon fill="#00ff00" points="609.1,350.8 612.6,350.0 616.1,352.6 617.9,357.8 618.4,363.9 620.1,367.4 622.2,370.9 624.0,376.2 626.6,374.4 628.4,370.9 629.2,376.2 629.6,382.3 628.9,385.8 626.6,386.7 624.9,383.2 623.6,379.7 622.2,382.3 620.5,384.0 617.9,381.4 617.0,376.2 616.1,371.8 614.9,374.4 614.4,380.5 613.5,384.9 609.1,385.8"/>
<polygon fill="#00ff00" points="699.1,314.1 705.8,314.1 705.3,319.4 702.6,320.6 700.0,319.9"/>
<polygon fill="#00ff00" points="748.9,314.1 769.0,314.1 769.0,335.6 765.6,334.2 762.9,336.0 760.3,338.6 757.7,336.8 755.9,331.6 754.2,325.5 751.6,320.2"/>
<polygon fill="#00ff00" points="683.4,352.6 685.2,349.1 686.9,345.6 690.4,343.8 693.9,343.0 696.5,339.5 699.1,338.1 700.9,341.2 701.2,344.7 699.1,347.3 696.5,349.1 693.0,350.0 689.5,351.7 686.9,354.3 684.8,354.3"/>
<polygon fill="#00ff00" points="705.3,367.4 706.1,362.2 707.9,357.8 710.5,356.1 713.1,356.9 714.5,361.3 715.7,365.7 714.9,369.2 712.2,370.6 708.8,370.1 706.1,369.2"/>
<polygon fill="#00ff00" points="694.8,387.5 695.6,382.3 696.5,377.9 699.1,374.4 701.8,371.8 704.4,370.9 705.3,374.4 703.5,378.8 700.9,382.3 698.3,384.9 696.5,387.0"/>
<polygon fill="#00ff00" points="769.0,356.1 764.7,356.9 762.1,358.7 758.6,356.9 755.9,354.3 753.3,357.8 750.7,356.9 748.1,355.2 746.3,359.6 743.7,363.1 741.1,366.6 739.3,370.9 737.6,375.3 735.8,380.5 733.2,384.0 731.5,388.4 729.7,395.4 769.0,395.4"/>
<polygon fill="#80ff00" points="744.6,375.3 746.3,371.8 748.9,370.9 751.6,372.7 754.2,368.3 755.9,370.9 758.6,373.6 762.1,375.3 764.7,376.2 766.4,373.6 769.0,372.7 769.0,395.4 735.0,395.4 736.7,389.3 739.0,384.9 740.7,380.5 742.8,377.9"/>
<polygon fill="#ccff00" points="745.5,384.9 747.2,380.5 749.8,378.8 753.3,379.3 755.9,381.4 759.4,382.3 763.8,383.2 769.0,382.3 769.0,395.4 740.2,395.4 742.0,390.2 743.7,387.5"/>
<polygon fill="#ffff00" points="748.1,391.9 750.7,389.3 754.2,388.4 758.6,389.3 762.1,391.0 765.6,391.9 769.0,391.9 769.0,395.4 747.2,395.4"/>
<polygon fill="#00ffcc" points="692.1,395.4 695.6,391.0 699.1,388.4 702.6,384.9 706.1,381.4 710.5,377.9 714.9,375.3 719.2,374.4 722.7,375.3 724.5,372.7 725.7,370.9 726.2,375.3 726.2,381.4 725.4,386.7 723.6,391.0 721.9,395.4"/>
<polygon fill="#00ffff" points="705.3,395.4 707.0,390.2 709.6,385.8 712.2,383.2 714.9,382.3 717.5,384.0 718.4,387.5 717.5,391.0 715.7,395.4"/>
<polygon fill="#00ff00" points="634.5,390.2 636.2,390.2 636.2,395.4 634.5,395.4"/>
<polygon fill="#00ff00" points="650.2,390.2 652.8,390.2 652.8,395.4 650.2,395.4"/>
<polygon fill="#00ff00" points="656.3,390.2 658.1,390.2 658.1,395.4 656.3,395.4"/>
<polygon fill="#00ffcc" points="681.3,386.7 682.5,386.7 682.5,391.9 681.3,391.9"/>
</g>
<g clip-path="url(#t33)">
<rect x="610" y="394" width="158" height="79" fill="#00ff80"/>
<polygon fill="#00ff00" points="609.1,393.1 631.8,393.1 627.5,399.2 622.2,403.6 617.9,408.9 614.4,415.0 611.7,422.0 609.1,426.3"/>
<polygon fill="#00ff80" points="614.4,397.5 616.1,397.5 616.1,404.5 614.4,404.5"/>
<polygon fill="#00ff00" points="639.7,408.0 642.3,401.9 645.8,396.6 649.3,393.1 655.8,393.1 656.8,401.0 657.2,409.7 657.5,418.5 658.6,427.2 660.3,434.2 660.7,439.8 657.2,441.5 651.9,441.2 647.6,438.6 644.1,433.3 641.5,426.3 639.7,418.5"/>
<polygon fill="#80ff00" points="645.8,413.2 647.6,411.1 649.8,411.5 651.6,415.8 652.8,422.0 652.3,427.2 650.2,428.1 647.6,424.6 645.8,419.3"/>
<polygon fill="#00ff00" points="735.0,393.1 733.2,400.1 730.6,402.7 726.2,407.1 721.9,412.4 717.5,418.5 714.0,424.6 710.5,430.7 707.0,437.7 703.5,443.8 700.0,447.3 695.6,449.1 690.4,449.6 685.2,451.7 682.0,455.2 681.3,463.9 681.3,474.4 769.0,474.4 769.0,393.1"/>
<polygon fill="#80ff00" points="735.8,393.1 769.0,393.1 769.0,464.8 763.8,466.0 759.4,467.4 755.1,465.7 752.4,461.3 751.2,455.2 749.8,450.8 748.1,454.3 744.6,459.5 741.1,463.9 736.7,468.3 732.3,470.0 726.2,467.4 721.0,463.0 716.6,457.8 714.5,451.7 714.5,444.7 716.3,437.7 719.2,431.6 722.7,425.5 726.2,420.2 730.6,416.7 735.0,413.2 738.5,408.0 740.7,401.0 741.1,393.1"/>
<polygon fill="#ccff00" points="742.0,393.1 741.4,401.0 739.3,408.0 735.8,415.0 732.3,422.0 728.8,429.0 726.2,436.8 725.4,444.7 725.7,451.7 727.5,457.8 730.6,463.0 735.0,464.8 739.3,462.2 742.8,457.8 746.0,452.6 748.4,447.3 750.7,442.9 753.3,439.8 755.9,439.1 757.7,442.1 758.6,446.4 760.3,447.3 763.8,446.4 769.0,445.6 769.0,393.1"/>
<polygon fill="#ffff00" points="748.1,393.1 748.9,401.0 750.7,408.0 752.4,415.0 754.2,422.0 756.8,429.0 759.4,434.2 762.9,437.7 766.4,436.8 769.0,435.9 769.0,393.1"/>
<polygon fill="#ffd400" points="754.2,394.9 769.0,394.9 769.0,427.2 764.7,428.1 761.2,424.6 758.6,418.5 756.5,411.5 754.7,403.6"/>
<polygon fill="#ffaa00" points="760.3,408.9 762.1,407.1 763.8,409.7 764.2,415.0 762.9,417.6 761.2,416.4 760.0,412.4"/>
<polygon fill="#00ffcc" points="613.5,420.2 617.0,415.0 621.4,411.5 626.6,410.1 631.0,411.5 633.6,415.8 633.6,423.7 632.4,432.5 630.6,441.2 628.9,449.1 625.7,455.2 621.4,457.3 616.1,456.0 611.7,452.6 609.1,449.9 609.1,427.2"/>
<polygon fill="#00ffff" points="616.1,426.3 618.7,422.0 622.2,420.2 625.4,421.1 627.1,425.5 626.6,432.5 624.9,438.6 622.2,442.9 618.7,444.7 616.1,442.1 614.9,436.8 614.9,430.7"/>
<polygon fill="#00ffcc" points="662.4,423.7 664.2,417.6 667.7,412.4 672.0,408.9 676.4,408.0 677.3,411.5 675.5,417.6 673.8,424.6 673.3,431.6 672.0,435.9 668.6,435.6 665.1,433.3 662.8,429.0"/>
<polygon fill="#00ffcc" points="679.9,425.5 681.7,418.5 683.4,411.5 686.0,404.5 689.5,399.2 693.0,393.1 735.0,393.1 733.2,400.1 730.6,402.7 725.4,406.2 721.0,410.6 716.6,415.0 713.1,420.2 708.8,425.5 704.4,429.8 700.0,433.3 694.8,435.1 689.5,434.2 684.3,431.6 680.8,429.0"/>
<polygon fill="#00ffff" points="685.2,415.0 686.9,408.0 690.4,401.9 694.8,396.6 697.4,393.1 721.9,393.1 719.2,398.4 714.9,402.7 711.4,407.1 707.9,411.5 704.4,415.8 700.9,419.3 696.5,422.0 692.1,422.0 687.8,420.2 685.5,418.1"/>
<polygon fill="#00aaff" points="702.3,402.7 703.2,402.7 703.2,403.8 702.3,403.8"/>
</g>
<clipPath id="p0"><rect x="136" y="335" width="60" height="59"/></clipPath>
<g clip-path="url(#p0)">
<rect x="136" y="335" width="60" height="59" fill="#00ff80"/>
<polygon fill="#00ff00" points="135.5,334.5 170.3,334.5 168.5,342.2 169.8,346.7 169.4,353.0 167.1,358.5 167.1,364.8 168.5,371.1 170.7,374.7 172.1,377.4 172.5,380.1 170.7,380.6 167.6,380.1 164.0,377.4 161.7,373.8 159.5,371.1 155.4,369.3 154.0,364.8 153.1,357.6 152.7,353.0 149.5,349.9 145.9,346.7 142.8,343.6 141.0,340.0 135.5,340.0"/>
<polygon fill="#00ff80" points="157.2,361.2 159.6,361.2 159.6,366.6 158.1,367.0 157.2,364.8"/>
<polygon fill="#00ff00" points="135.5,352.6 141.4,352.6 143.7,355.3 145.0,358.5 147.3,362.1 148.2,365.7 147.7,370.2 144.1,371.1 142.8,372.9 141.4,374.7 139.6,372.9 137.8,372.0 135.5,372.0"/>
<polygon fill="#00ff00" points="149.5,364.8 151.8,363.9 153.1,366.1 153.6,369.3 154.9,372.0 154.5,373.8 152.2,373.3 150.4,371.5 149.4,368.8"/>
<polygon fill="#00ff00" points="160.8,377.0 162.6,377.4 164.0,379.2 163.1,380.6 161.3,380.1"/>
<polygon fill="#00ff00" points="174.3,358.5 175.7,354.4 178.0,351.7 180.2,351.2 181.6,353.5 182.0,357.1 180.7,359.8 178.9,362.1 176.2,363.0 174.1,362.1"/>
<polygon fill="#00ff00" points="180.2,334.5 181.1,340.4 186.5,341.3 188.3,344.9 191.0,347.6 193.7,350.3 196.5,351.7 196.5,334.5"/>
<polygon fill="#00ff00" points="196.5,365.7 193.7,367.5 191.0,368.4 189.2,371.1 186.5,370.6 185.2,368.8 182.5,367.0 181.1,367.9 180.2,371.1 180.2,374.7 179.3,377.4 178.0,374.7 177.5,371.5 175.7,371.1 174.8,372.9 174.8,377.4 175.7,381.9 176.6,385.1 174.8,386.9 173.0,389.1 173.9,392.7 175.7,394.5 196.5,394.5"/>
<polygon fill="#00ff00" points="135.5,371.1 139.6,372.9 141.4,374.7 142.8,372.9 145.0,377.4 146.8,382.8 148.2,389.1 149.1,394.5 135.5,394.5"/>
<polygon fill="#80ff00" points="135.5,372.0 138.3,372.0 140.1,374.7 141.6,377.4 141.9,381.9 141.9,394.5 135.5,394.5"/>
<polygon fill="#ccff00" points="135.5,385.1 137.6,385.5 138.0,389.1 137.8,394.5 135.5,394.5"/>
<polygon fill="#00ffcc" points="157.2,387.8 159.0,385.1 162.2,385.5 164.4,388.2 166.7,390.9 168.3,394.5 156.4,394.5 156.8,390.9"/>
</g>
<clipPath id="p1"><rect x="196" y="335" width="60" height="59"/></clipPath>
<g clip-path="url(#p1)">
<rect x="196" y="335" width="60" height="59" fill="#00ff00"/>
<polygon fill="#00ff80" points="197.4,334.5 200.1,334.5 199.6,339.5 196.9,339.5"/>
<polygon fill="#00ff80" points="210.9,334.5 218.6,334.5 219.0,338.6 219.9,341.3 221.7,343.1 222.6,348.5 223.1,343.1 224.0,341.3 225.8,341.3 227.1,343.6 229.4,346.7 230.7,348.1 230.7,353.0 229.8,355.3 228.9,352.1 228.0,350.3 227.1,351.2 226.7,353.9 225.3,356.7 223.1,358.0 221.7,354.4 219.9,352.6 217.7,351.7 215.4,351.2 212.7,350.8 212.2,349.0 213.1,346.7 213.1,344.0 214.0,341.3 212.7,338.6 211.3,336.8"/>
<polygon fill="#00ff80" points="228.0,334.5 241.1,334.5 239.3,337.3 238.0,339.5 237.1,341.8 235.7,339.5 233.4,339.1 231.2,339.5 228.5,339.5"/>
<polygon fill="#00ff80" points="195.5,352.1 199.2,352.6 199.8,355.3 199.4,358.5 195.5,358.0"/>
<polygon fill="#00ff80" points="203.2,358.0 205.0,355.8 207.3,353.5 209.5,353.9 211.8,356.2 213.6,357.6 215.4,356.2 217.7,354.8 220.4,354.4 222.2,354.8 223.1,358.0 223.5,362.1 224.9,365.7 226.7,369.7 228.9,373.8 230.7,378.3 231.6,381.0 236.6,380.6 240.2,379.2 244.7,378.3 248.3,376.5 251.9,373.8 256.5,371.1 256.5,394.5 213.1,394.5 213.6,390.9 216.8,389.1 219.9,388.2 221.7,384.6 222.6,381.0 221.7,377.4 222.2,373.8 223.1,370.2 221.7,367.5 219.6,365.2 218.6,368.4 218.1,373.8 216.3,372.0 214.9,369.3 214.0,365.7 212.7,363.4 211.3,366.1 209.5,368.8 208.2,366.6 206.4,366.1 204.6,367.9 203.7,364.8 203.0,361.2"/>
<polygon fill="#80ff00" points="254.6,348.1 256.5,348.1 256.5,361.2 255.1,360.7 254.2,358.5 253.9,355.3 254.5,351.2"/>
<polygon fill="#00ff80" points="195.5,375.2 197.8,375.2 199.4,377.9 200.1,381.9 200.1,389.1 201.4,390.9 201.9,394.5 195.5,394.5 195.5,390.0 197.6,389.6 197.6,378.1 195.5,378.1"/>
<polygon fill="#00ff00" points="243.8,392.7 245.2,392.7 245.2,394.5 243.8,394.5"/>
<polygon fill="#00ff00" points="251.9,391.8 253.7,391.8 253.7,394.5 251.9,394.5"/>
</g>
<clipPath id="p2"><rect x="466" y="355" width="100" height="45"/></clipPath>
<g clip-path="url(#p2)">
<rect x="466" y="355" width="100" height="45" fill="#00ff80"/>
<polygon fill="#00ff00" points="465.4,354.4 469.3,354.4 469.1,359.4 468.2,366.1 465.4,366.6"/>
<polygon fill="#00ff00" points="473.7,354.4 487.0,354.4 486.5,356.1 480.4,356.7 477.6,357.2 477.1,360.5 476.5,365.0 474.8,367.7 473.2,368.3 473.2,365.0 474.8,361.6 474.6,357.8"/>
<polygon fill="#00ff00" points="489.2,361.1 491.2,361.1 492.0,365.5 491.2,368.8 492.5,372.1 494.2,375.5 495.3,378.8 495.9,382.1 498.1,384.3 501.4,386.5 504.2,387.1 506.4,388.7 508.6,392.6 510.2,397.0 511.4,400.6 473.7,400.6 476.0,398.1 477.6,394.8 478.7,390.4 479.3,386.5 480.4,384.3 482.0,384.9 483.1,387.6 483.7,390.4 487.6,390.4 490.9,388.2 492.5,386.0 493.1,381.5 493.1,378.2 492.0,374.9 490.9,370.5 490.3,366.1 489.2,363.8"/>
<polygon fill="#00ff00" points="502.5,377.7 503.6,374.4 504.9,375.5 505.8,378.8 507.2,381.5 509.1,380.4 510.2,377.1 511.4,374.4 512.5,375.5 513.8,378.2 513.8,381.5 512.5,383.8 510.8,386.5 508.6,387.1 505.8,386.0 504.2,387.1 503.4,383.8 502.5,380.4"/>
<polygon fill="#00ff00" points="517.1,377.1 518.5,373.8 519.7,371.6 520.8,372.7 521.1,377.1 520.8,381.0 521.3,384.3 523.0,386.0 524.1,383.2 523.7,379.3 525.2,379.3 525.7,383.2 526.8,384.9 528.5,382.7 528.8,378.2 529.9,377.1 530.4,380.4 530.2,384.9 529.9,388.2 529.1,391.5 526.3,391.5 524.1,389.3 522.4,387.6 520.2,388.2 517.8,387.6 517.4,384.3 518.0,381.0"/>
<polygon fill="#00ff00" points="533.3,378.2 535.1,377.1 535.9,379.9 535.5,384.3 533.5,384.9 532.9,381.5"/>
<polygon fill="#00ff00" points="538.1,387.6 540.3,387.1 541.2,389.3 540.7,393.2 539.0,393.7 538.1,391.0"/>
<polygon fill="#00ff00" points="546.2,393.2 547.9,392.1 548.1,395.4 546.8,395.9"/>
<polygon fill="#00ff00" points="563.3,393.7 566.7,389.8 566.7,398.1 563.9,397.6 562.8,395.4"/>
<polygon fill="#00ff00" points="535.1,354.4 566.7,354.4 566.7,371.6 561.1,371.6 560.6,376.0 557.3,376.6 556.7,373.3 554.5,371.0 551.2,373.3 547.3,373.8 546.2,370.5 545.1,366.6 542.9,365.5 541.2,362.2 539.0,360.5 536.8,358.9 535.1,357.2"/>
<polygon fill="#00ffcc" points="465.4,393.7 468.0,394.3 468.2,400.6 465.4,400.6"/>
<polygon fill="#00ffcc" points="476.2,388.2 477.1,388.2 477.1,391.5 476.2,391.5"/>
</g>
</g>
<g fill="none" stroke="#000" shape-rendering="crispEdges">
<path stroke-width="1" d="M160.5 473 V468 M160.5 157 V162 M211.5 473 V468 M211.5 157 V162 M262.5 473 V468 M262.5 157 V162 M312.5 473 V468 M312.5 157 V162 M363.5 473 V468 M363.5 157 V162 M414.5 473 V468 M414.5 157 V162 M465.5 473 V468 M465.5 157 V162 M516.5 473 V468 M516.5 157 V162 M567.5 473 V468 M567.5 157 V162 M617.5 473 V468 M617.5 157 V162 M668.5 473 V468 M668.5 157 V162 M719.5 473 V468 M719.5 157 V162 M136 459.5 H141 M768 459.5 H763 M136 443.5 H141 M768 443.5 H763 M136 427.5 H141 M768 427.5 H763 M136 411.5 H141 M768 411.5 H763 M136 379.5 H141 M768 379.5 H763 M136 363.5 H141 M768 363.5 H763 M136 347.5 H141 M768 347.5 H763 M136 331.5 H141 M768 331.5 H763 M136 299.5 H141 M768 299.5 H763 M136 283.5 H141 M768 283.5 H763 M136 267.5 H141 M768 267.5 H763 M136 251.5 H141 M768 251.5 H763 M136 219.5 H141 M768 219.5 H763 M136 203.5 H141 M768 203.5 H763 M136 187.5 H141 M768 187.5 H763 M136 171.5 H141 M768 171.5 H763"/>
<path stroke-width="2" d="M185.0 473 V463 M185.0 157 V167 M236.0 473 V463 M236.0 157 V167 M287.0 473 V463 M287.0 157 V167 M337.0 473 V463 M337.0 157 V167 M388.0 473 V463 M388.0 157 V167 M439.0 473 V463 M439.0 157 V167 M490.0 473 V463 M490.0 157 V167 M541.0 473 V463 M541.0 157 V167 M592.0 473 V463 M592.0 157 V167 M642.0 473 V463 M642.0 157 V167 M693.0 473 V463 M693.0 157 V167 M744.0 473 V463 M744.0 157 V167 M136 395.0 H145 M768 395.0 H759 M136 315.0 H145 M768 315.0 H759 M136 235.0 H145 M768 235.0 H759"/>
<rect x="136" y="157" width="632" height="316" stroke-width="2"/>
</g>
<g stroke="#000" stroke-width="2" stroke-linejoin="miter" shape-rendering="crispEdges">
<rect x="784" y="247.20" width="18" height="11.30" fill="#ff2a2a"/>
<rect x="784" y="258.50" width="18" height="11.30" fill="#ff2000"/>
<rect x="784" y="269.80" width="18" height="11.30" fill="#ff5500"/>
<rect x="784" y="281.10" width="18" height="11.30" fill="#ff8000"/>
<rect x="784" y="292.40" width="18" height="11.30" fill="#ffaa00"/>
<rect x="784" y="303.70" width="18" height="11.30" fill="#ffd400"/>
<rect x="784" y="315.00" width="18" height="11.30" fill="#ffff00"/>
<rect x="784" y="326.30" width="18" height="11.30" fill="#ccff00"/>
<rect x="784" y="337.60" width="18" height="11.30" fill="#80ff00"/>
<rect x="784" y="348.90" width="18" height="11.30" fill="#00ff00"/>
<rect x="784" y="360.20" width="18" height="11.30" fill="#00ff80"/>
<rect x="784" y="371.50" width="18" height="11.30" fill="#00ffcc"/>
<rect x="784" y="382.80" width="18" height="11.30" fill="#00ffff"/>
<rect x="784" y="394.10" width="18" height="11.30" fill="#00aaff"/>
<rect x="784" y="405.40" width="18" height="11.30" fill="#0066ff"/>
<rect x="784" y="416.70" width="18" height="11.30" fill="#0040ff"/>
<rect x="784" y="428.00" width="18" height="11.30" fill="#0000ff"/>
<rect x="784" y="439.30" width="18" height="11.30" fill="#0000bb"/>
<rect x="784" y="450.60" width="18" height="11.30" fill="#2200bb"/>
<rect x="784" y="461.90" width="18" height="11.30" fill="#5500aa"/>
<polygon points="784,247.2 793.0,206 802,247.2" fill="#ffaaaa"/>
<polygon points="784,473.2 793.0,515 802,473.2" fill="#990099"/>
</g>
<path transform="translate(452.30 112.20)" d="M-110.54 -13.02 L-104.99 0.00 M-99.44 -13.02 L-104.99 0.00 M-94.81 -7.44 L-83.71 -7.44 L-83.71 -9.30 L-84.64 -11.16 L-85.56 -12.09 L-87.41 -13.02 L-90.19 -13.02 L-92.04 -12.09 L-93.89 -10.23 L-94.81 -7.44 L-94.81 -5.58 L-93.89 -2.79 L-92.04 -0.93 L-90.19 0.00 L-87.41 0.00 L-85.56 -0.93 L-83.71 -2.79 M-77.24 -13.02 L-77.24 0.00 M-77.24 -7.44 L-76.31 -10.23 L-74.46 -12.09 L-72.61 -13.02 L-69.84 -13.02 M-64.29 -19.53 L-64.29 -3.72 L-63.36 -0.93 L-61.51 0.00 L-59.66 0.00 M-67.06 -13.02 L-60.59 -13.02 M-55.04 -19.53 L-54.11 -18.60 L-53.19 -19.53 L-54.11 -20.46 L-55.04 -19.53 M-54.11 -13.02 L-54.11 0.00 M-36.54 -10.23 L-38.39 -12.09 L-40.24 -13.02 L-43.01 -13.02 L-44.86 -12.09 L-46.71 -10.23 L-47.64 -7.44 L-47.64 -5.58 L-46.71 -2.79 L-44.86 -0.93 L-43.01 0.00 L-40.24 0.00 L-38.39 -0.93 L-36.54 -2.79 M-19.89 -13.02 L-19.89 0.00 M-19.89 -10.23 L-21.74 -12.09 L-23.59 -13.02 L-26.36 -13.02 L-28.21 -12.09 L-30.06 -10.23 L-30.99 -7.44 L-30.99 -5.58 L-30.06 -2.79 L-28.21 -0.93 L-26.36 0.00 L-23.59 0.00 L-21.74 -0.93 L-19.89 -2.79 M-12.49 -19.53 L-12.49 0.00 M7.86 -13.02 L13.41 0.00 M18.96 -13.02 L13.41 0.00 M23.59 -7.44 L34.69 -7.44 L34.69 -9.30 L33.76 -11.16 L32.84 -12.09 L30.99 -13.02 L28.21 -13.02 L26.36 -12.09 L24.51 -10.23 L23.59 -7.44 L23.59 -5.58 L24.51 -2.79 L26.36 -0.93 L28.21 0.00 L30.99 0.00 L32.84 -0.93 L34.69 -2.79 M41.16 -19.53 L41.16 0.00 M52.26 -13.02 L50.41 -12.09 L48.56 -10.23 L47.64 -7.44 L47.64 -5.58 L48.56 -2.79 L50.41 -0.93 L52.26 0.00 L55.04 0.00 L56.89 -0.93 L58.74 -2.79 L59.66 -5.58 L59.66 -7.44 L58.74 -10.23 L56.89 -12.09 L55.04 -13.02 L52.26 -13.02 M76.31 -10.23 L74.46 -12.09 L72.61 -13.02 L69.84 -13.02 L67.99 -12.09 L66.14 -10.23 L65.21 -7.44 L65.21 -5.58 L66.14 -2.79 L67.99 -0.93 L69.84 0.00 L72.61 0.00 L74.46 -0.93 L76.31 -2.79 M81.86 -19.53 L82.79 -18.60 L83.71 -19.53 L82.79 -20.46 L81.86 -19.53 M82.79 -13.02 L82.79 0.00 M91.11 -19.53 L91.11 -3.72 L92.04 -0.93 L93.89 0.00 L95.74 0.00 M88.34 -13.02 L94.81 -13.02 M99.44 -13.02 L104.99 0.00 M110.54 -13.02 L104.99 0.00 L103.14 3.72 L101.29 5.58 L99.44 6.51 L98.51 6.51" fill="none" stroke="#000" stroke-width="1.80" stroke-linecap="round" stroke-linejoin="round" shape-rendering="crispEdges"/>
<path transform="translate(45.70 133.70)" d="M6.16 -11.88 L5.32 -10.80 L4.48 -9.45 L3.64 -7.83 L3.08 -5.94 L3.08 -3.78 L3.64 -1.89 L4.48 -0.27 L5.32 1.08 L6.16 2.16 M11.48 -1.35 L18.76 -7.29 M18.76 -1.35 L11.48 -7.29 M24.08 -9.18 L25.20 -9.72 L26.88 -11.34 L26.88 0.00 M36.96 -11.34 L35.28 -10.80 L34.16 -9.18 L33.60 -6.48 L33.60 -4.86 L34.16 -2.16 L35.28 -0.54 L36.96 0.00 L38.08 0.00 L39.76 -0.54 L40.88 -2.16 L41.44 -4.86 L41.44 -6.48 L40.88 -9.18 L39.76 -10.80 L38.08 -11.34 L36.96 -11.34 M48.16 -11.34 L46.48 -10.80 L45.36 -9.18 L44.80 -6.48 L44.80 -4.86 L45.36 -2.16 L46.48 -0.54 L48.16 0.00 L49.28 0.00 L50.96 -0.54 L52.08 -2.16 L52.64 -4.86 L52.64 -6.48 L52.08 -9.18 L50.96 -10.80 L49.28 -11.34 L48.16 -11.34 M59.36 -11.34 L57.68 -10.80 L56.56 -9.18 L56.00 -6.48 L56.00 -4.86 L56.56 -2.16 L57.68 -0.54 L59.36 0.00 L60.48 0.00 L62.16 -0.54 L63.28 -2.16 L63.84 -4.86 L63.84 -6.48 L63.28 -9.18 L62.16 -10.80 L60.48 -11.34 L59.36 -11.34 M76.72 -7.56 L76.72 0.00 M76.72 -5.40 L78.40 -7.02 L79.52 -7.56 L81.20 -7.56 L82.32 -7.02 L82.88 -5.40 L82.88 0.00 M82.88 -5.40 L84.56 -7.02 L85.68 -7.56 L87.36 -7.56 L88.48 -7.02 L89.04 -5.40 L89.04 0.00 M92.96 -11.88 L93.80 -10.80 L94.64 -9.45 L95.48 -7.83 L96.04 -5.94 L96.04 -3.78 L95.48 -1.89 L94.64 -0.27 L93.80 1.08 L92.96 2.16" fill="none" stroke="#000" stroke-width="2.00" stroke-linecap="round" stroke-linejoin="round" shape-rendering="crispEdges"/>
<path transform="translate(683.70 517.30)" d="M6.16 -11.88 L5.32 -10.80 L4.48 -9.45 L3.64 -7.83 L3.08 -5.94 L3.08 -3.78 L3.64 -1.89 L4.48 -0.27 L5.32 1.08 L6.16 2.16 M11.48 -1.35 L18.76 -7.29 M18.76 -1.35 L11.48 -7.29 M24.08 -9.18 L25.20 -9.72 L26.88 -11.34 L26.88 0.00 M36.96 -11.34 L35.28 -10.80 L34.16 -9.18 L33.60 -6.48 L33.60 -4.86 L34.16 -2.16 L35.28 -0.54 L36.96 0.00 L38.08 0.00 L39.76 -0.54 L40.88 -2.16 L41.44 -4.86 L41.44 -6.48 L40.88 -9.18 L39.76 -10.80 L38.08 -11.34 L36.96 -11.34 M48.16 -11.34 L46.48 -10.80 L45.36 -9.18 L44.80 -6.48 L44.80 -4.86 L45.36 -2.16 L46.48 -0.54 L48.16 0.00 L49.28 0.00 L50.96 -0.54 L52.08 -2.16 L52.64 -4.86 L52.64 -6.48 L52.08 -9.18 L50.96 -10.80 L49.28 -11.34 L48.16 -11.34 M59.36 -11.34 L57.68 -10.80 L56.56 -9.18 L56.00 -6.48 L56.00 -4.86 L56.56 -2.16 L57.68 -0.54 L59.36 0.00 L60.48 0.00 L62.16 -0.54 L63.28 -2.16 L63.84 -4.86 L63.84 -6.48 L63.28 -9.18 L62.16 -10.80 L60.48 -11.34 L59.36 -11.34 M76.72 -7.56 L76.72 0.00 M76.72 -5.40 L78.40 -7.02 L79.52 -7.56 L81.20 -7.56 L82.32 -7.02 L82.88 -5.40 L82.88 0.00 M82.88 -5.40 L84.56 -7.02 L85.68 -7.56 L87.36 -7.56 L88.48 -7.02 L89.04 -5.40 L89.04 0.00 M92.96 -11.88 L93.80 -10.80 L94.64 -9.45 L95.48 -7.83 L96.04 -5.94 L96.04 -3.78 L95.48 -1.89 L94.64 -0.27 L93.80 1.08 L92.96 2.16" fill="none" stroke="#000" stroke-width="2.00" stroke-linecap="round" stroke-linejoin="round" shape-rendering="crispEdges"/>
<path transform="translate(452.00 546.20)" d="M-74.97 -14.91 L-64.68 0.00 M-64.68 -14.91 L-74.97 0.00 M-59.53 -6.39 L-46.30 -6.39 M-32.34 -7.81 L-33.81 -9.23 L-35.28 -9.94 L-37.48 -9.94 L-38.95 -9.23 L-40.42 -7.81 L-41.16 -5.68 L-41.16 -4.26 L-40.42 -2.13 L-38.95 -0.71 L-37.48 0.00 L-35.28 0.00 L-33.81 -0.71 L-32.34 -2.13 M-24.25 -9.94 L-25.72 -9.23 L-27.19 -7.81 L-27.93 -5.68 L-27.93 -4.26 L-27.19 -2.13 L-25.72 -0.71 L-24.25 0.00 L-22.05 0.00 L-20.58 -0.71 L-19.11 -2.13 L-18.37 -4.26 L-18.37 -5.68 L-19.11 -7.81 L-20.58 -9.23 L-22.05 -9.94 L-24.25 -9.94 M-10.29 -9.94 L-11.76 -9.23 L-13.23 -7.81 L-13.96 -5.68 L-13.96 -4.26 L-13.23 -2.13 L-11.76 -0.71 L-10.29 0.00 L-8.08 0.00 L-6.61 -0.71 L-5.14 -2.13 L-4.41 -4.26 L-4.41 -5.68 L-5.14 -7.81 L-6.61 -9.23 L-8.08 -9.94 L-10.29 -9.94 M0.74 -9.94 L0.74 0.00 M0.74 -5.68 L1.47 -7.81 L2.94 -9.23 L4.41 -9.94 L6.62 -9.94 M18.38 -14.91 L18.38 0.00 M18.38 -7.81 L16.91 -9.23 L15.44 -9.94 L13.23 -9.94 L11.76 -9.23 L10.29 -7.81 L9.56 -5.68 L9.56 -4.26 L10.29 -2.13 L11.76 -0.71 L13.23 0.00 L15.44 0.00 L16.91 -0.71 L18.38 -2.13 M23.52 -14.91 L24.26 -14.20 L24.99 -14.91 L24.26 -15.62 L23.52 -14.91 M24.26 -9.94 L24.26 0.00 M30.14 -9.94 L30.14 0.00 M30.14 -7.10 L32.34 -9.23 L33.81 -9.94 L36.02 -9.94 L37.48 -9.23 L38.22 -7.10 L38.22 0.00 M52.19 -9.94 L52.19 0.00 M52.19 -7.81 L50.72 -9.23 L49.25 -9.94 L47.04 -9.94 L45.57 -9.23 L44.10 -7.81 L43.37 -5.68 L43.37 -4.26 L44.10 -2.13 L45.57 -0.71 L47.04 0.00 L49.25 0.00 L50.72 -0.71 L52.19 -2.13 M58.80 -14.91 L58.80 -2.84 L59.53 -0.71 L61.01 0.00 L62.48 0.00 M56.59 -9.94 L61.74 -9.94 M66.15 -5.68 L74.97 -5.68 L74.97 -7.10 L74.23 -8.52 L73.50 -9.23 L72.03 -9.94 L69.83 -9.94 L68.36 -9.23 L66.89 -7.81 L66.15 -5.68 L66.15 -4.26 L66.89 -2.13 L68.36 -0.71 L69.83 0.00 L72.03 0.00 L73.50 -0.71 L74.97 -2.13" fill="none" stroke="#000" stroke-width="1.80" stroke-linecap="round" stroke-linejoin="round" shape-rendering="crispEdges"/>
<path transform="translate(90.40 314.50) rotate(-90)" d="M-64.24 -16.48 L-74.46 0.00 M-74.46 -16.48 L-64.24 -16.48 M-74.46 0.00 L-64.24 0.00 M-59.13 -7.07 L-45.99 -7.07 M-32.12 -8.63 L-33.58 -10.21 L-35.04 -10.99 L-37.23 -10.99 L-38.69 -10.21 L-40.15 -8.63 L-40.88 -6.28 L-40.88 -4.71 L-40.15 -2.35 L-38.69 -0.79 L-37.23 0.00 L-35.04 0.00 L-33.58 -0.79 L-32.12 -2.35 M-24.09 -10.99 L-25.55 -10.21 L-27.01 -8.63 L-27.74 -6.28 L-27.74 -4.71 L-27.01 -2.35 L-25.55 -0.79 L-24.09 0.00 L-21.90 0.00 L-20.44 -0.79 L-18.98 -2.35 L-18.25 -4.71 L-18.25 -6.28 L-18.98 -8.63 L-20.44 -10.21 L-21.90 -10.99 L-24.09 -10.99 M-10.22 -10.99 L-11.68 -10.21 L-13.14 -8.63 L-13.87 -6.28 L-13.87 -4.71 L-13.14 -2.35 L-11.68 -0.79 L-10.22 0.00 L-8.03 0.00 L-6.57 -0.79 L-5.11 -2.35 L-4.38 -4.71 L-4.38 -6.28 L-5.11 -8.63 L-6.57 -10.21 L-8.03 -10.99 L-10.22 -10.99 M0.73 -10.99 L0.73 0.00 M0.73 -6.28 L1.46 -8.63 L2.92 -10.21 L4.38 -10.99 L6.57 -10.99 M18.25 -16.48 L18.25 0.00 M18.25 -8.63 L16.79 -10.21 L15.33 -10.99 L13.14 -10.99 L11.68 -10.21 L10.22 -8.63 L9.49 -6.28 L9.49 -4.71 L10.22 -2.35 L11.68 -0.79 L13.14 0.00 L15.33 0.00 L16.79 -0.79 L18.25 -2.35 M23.36 -16.48 L24.09 -15.70 L24.82 -16.48 L24.09 -17.27 L23.36 -16.48 M24.09 -10.99 L24.09 0.00 M29.93 -10.99 L29.93 0.00 M29.93 -7.85 L32.12 -10.21 L33.58 -10.99 L35.77 -10.99 L37.23 -10.21 L37.96 -7.85 L37.96 0.00 M51.83 -10.99 L51.83 0.00 M51.83 -8.63 L50.37 -10.21 L48.91 -10.99 L46.72 -10.99 L45.26 -10.21 L43.80 -8.63 L43.07 -6.28 L43.07 -4.71 L43.80 -2.35 L45.26 -0.79 L46.72 0.00 L48.91 0.00 L50.37 -0.79 L51.83 -2.35 M58.40 -16.48 L58.40 -3.14 L59.13 -0.79 L60.59 0.00 L62.05 0.00 M56.21 -10.99 L61.32 -10.99 M65.70 -6.28 L74.46 -6.28 L74.46 -7.85 L73.73 -9.42 L73.00 -10.21 L71.54 -10.99 L69.35 -10.99 L67.89 -10.21 L66.43 -8.63 L65.70 -6.28 L65.70 -4.71 L66.43 -2.35 L67.89 -0.79 L69.35 0.00 L71.54 0.00 L73.00 -0.79 L74.46 -2.35" fill="none" stroke="#000" stroke-width="1.80" stroke-linecap="round" stroke-linejoin="round" shape-rendering="crispEdges"/>
<path transform="translate(185.73 493.90)" d="M1.71 -11.34 L-3.99 -3.78 L4.56 -3.78 M1.71 -11.34 L1.71 0.00" fill="none" stroke="#000" stroke-width="2.00" stroke-linecap="round" stroke-linejoin="round" shape-rendering="crispEdges"/>
<path transform="translate(236.56 493.90)" d="M-1.14 -11.34 L-2.85 -10.80 L-3.42 -9.72 L-3.42 -8.64 L-2.85 -7.56 L-1.71 -7.02 L0.57 -6.48 L2.28 -5.94 L3.42 -4.86 L3.99 -3.78 L3.99 -2.16 L3.42 -1.08 L2.85 -0.54 L1.14 0.00 L-1.14 0.00 L-2.85 -0.54 L-3.42 -1.08 L-3.99 -2.16 L-3.99 -3.78 L-3.42 -4.86 L-2.28 -5.94 L-0.57 -6.48 L1.71 -7.02 L2.85 -7.56 L3.42 -8.64 L3.42 -9.72 L2.85 -10.80 L1.14 -11.34 L-1.14 -11.34" fill="none" stroke="#000" stroke-width="2.00" stroke-linecap="round" stroke-linejoin="round" shape-rendering="crispEdges"/>
<path transform="translate(287.39 493.90)" d="M-7.98 -9.18 L-6.84 -9.72 L-5.13 -11.34 L-5.13 0.00 M2.28 -8.64 L2.28 -9.18 L2.85 -10.26 L3.42 -10.80 L4.56 -11.34 L6.84 -11.34 L7.98 -10.80 L8.55 -10.26 L9.12 -9.18 L9.12 -8.10 L8.55 -7.02 L7.41 -5.40 L1.71 0.00 L9.69 0.00" fill="none" stroke="#000" stroke-width="2.00" stroke-linecap="round" stroke-linejoin="round" shape-rendering="crispEdges"/>
<path transform="translate(338.22 493.90)" d="M-7.98 -9.18 L-6.84 -9.72 L-5.13 -11.34 L-5.13 0.00 M9.12 -9.72 L8.55 -10.80 L6.84 -11.34 L5.70 -11.34 L3.99 -10.80 L2.85 -9.18 L2.28 -6.48 L2.28 -3.78 L2.85 -1.62 L3.99 -0.54 L5.70 0.00 L6.27 0.00 L7.98 -0.54 L9.12 -1.62 L9.69 -3.24 L9.69 -3.78 L9.12 -5.40 L7.98 -6.48 L6.27 -7.02 L5.70 -7.02 L3.99 -6.48 L2.85 -5.40 L2.28 -3.78" fill="none" stroke="#000" stroke-width="2.00" stroke-linecap="round" stroke-linejoin="round" shape-rendering="crispEdges"/>
<path transform="translate(389.05 493.90)" d="M-9.12 -8.64 L-9.12 -9.18 L-8.55 -10.26 L-7.98 -10.80 L-6.84 -11.34 L-4.56 -11.34 L-3.42 -10.80 L-2.85 -10.26 L-2.28 -9.18 L-2.28 -8.10 L-2.85 -7.02 L-3.99 -5.40 L-9.69 0.00 L-1.71 0.00 M5.13 -11.34 L3.42 -10.80 L2.28 -9.18 L1.71 -6.48 L1.71 -4.86 L2.28 -2.16 L3.42 -0.54 L5.13 0.00 L6.27 0.00 L7.98 -0.54 L9.12 -2.16 L9.69 -4.86 L9.69 -6.48 L9.12 -9.18 L7.98 -10.80 L6.27 -11.34 L5.13 -11.34" fill="none" stroke="#000" stroke-width="2.00" stroke-linecap="round" stroke-linejoin="round" shape-rendering="crispEdges"/>
<path transform="translate(439.88 493.90)" d="M-9.12 -8.64 L-9.12 -9.18 L-8.55 -10.26 L-7.98 -10.80 L-6.84 -11.34 L-4.56 -11.34 L-3.42 -10.80 L-2.85 -10.26 L-2.28 -9.18 L-2.28 -8.10 L-2.85 -7.02 L-3.99 -5.40 L-9.69 0.00 L-1.71 0.00 M7.41 -11.34 L1.71 -3.78 L10.26 -3.78 M7.41 -11.34 L7.41 0.00" fill="none" stroke="#000" stroke-width="2.00" stroke-linecap="round" stroke-linejoin="round" shape-rendering="crispEdges"/>
<path transform="translate(490.71 493.90)" d="M-9.12 -8.64 L-9.12 -9.18 L-8.55 -10.26 L-7.98 -10.80 L-6.84 -11.34 L-4.56 -11.34 L-3.42 -10.80 L-2.85 -10.26 L-2.28 -9.18 L-2.28 -8.10 L-2.85 -7.02 L-3.99 -5.40 L-9.69 0.00 L-1.71 0.00 M4.56 -11.34 L2.85 -10.80 L2.28 -9.72 L2.28 -8.64 L2.85 -7.56 L3.99 -7.02 L6.27 -6.48 L7.98 -5.94 L9.12 -4.86 L9.69 -3.78 L9.69 -2.16 L9.12 -1.08 L8.55 -0.54 L6.84 0.00 L4.56 0.00 L2.85 -0.54 L2.28 -1.08 L1.71 -2.16 L1.71 -3.78 L2.28 -4.86 L3.42 -5.94 L5.13 -6.48 L7.41 -7.02 L8.55 -7.56 L9.12 -8.64 L9.12 -9.72 L8.55 -10.80 L6.84 -11.34 L4.56 -11.34" fill="none" stroke="#000" stroke-width="2.00" stroke-linecap="round" stroke-linejoin="round" shape-rendering="crispEdges"/>
<path transform="translate(541.54 493.90)" d="M-8.55 -11.34 L-2.28 -11.34 L-5.70 -7.02 L-3.99 -7.02 L-2.85 -6.48 L-2.28 -5.94 L-1.71 -4.32 L-1.71 -3.24 L-2.28 -1.62 L-3.42 -0.54 L-5.13 0.00 L-6.84 0.00 L-8.55 -0.54 L-9.12 -1.08 L-9.69 -2.16 M2.28 -8.64 L2.28 -9.18 L2.85 -10.26 L3.42 -10.80 L4.56 -11.34 L6.84 -11.34 L7.98 -10.80 L8.55 -10.26 L9.12 -9.18 L9.12 -8.10 L8.55 -7.02 L7.41 -5.40 L1.71 0.00 L9.69 0.00" fill="none" stroke="#000" stroke-width="2.00" stroke-linecap="round" stroke-linejoin="round" shape-rendering="crispEdges"/>
<path transform="translate(592.37 493.90)" d="M-8.55 -11.34 L-2.28 -11.34 L-5.70 -7.02 L-3.99 -7.02 L-2.85 -6.48 L-2.28 -5.94 L-1.71 -4.32 L-1.71 -3.24 L-2.28 -1.62 L-3.42 -0.54 L-5.13 0.00 L-6.84 0.00 L-8.55 -0.54 L-9.12 -1.08 L-9.69 -2.16 M9.12 -9.72 L8.55 -10.80 L6.84 -11.34 L5.70 -11.34 L3.99 -10.80 L2.85 -9.18 L2.28 -6.48 L2.28 -3.78 L2.85 -1.62 L3.99 -0.54 L5.70 0.00 L6.27 0.00 L7.98 -0.54 L9.12 -1.62 L9.69 -3.24 L9.69 -3.78 L9.12 -5.40 L7.98 -6.48 L6.27 -7.02 L5.70 -7.02 L3.99 -6.48 L2.85 -5.40 L2.28 -3.78" fill="none" stroke="#000" stroke-width="2.00" stroke-linecap="round" stroke-linejoin="round" shape-rendering="crispEdges"/>
<path transform="translate(643.20 493.90)" d="M-3.99 -11.34 L-9.69 -3.78 L-1.14 -3.78 M-3.99 -11.34 L-3.99 0.00 M5.13 -11.34 L3.42 -10.80 L2.28 -9.18 L1.71 -6.48 L1.71 -4.86 L2.28 -2.16 L3.42 -0.54 L5.13 0.00 L6.27 0.00 L7.98 -0.54 L9.12 -2.16 L9.69 -4.86 L9.69 -6.48 L9.12 -9.18 L7.98 -10.80 L6.27 -11.34 L5.13 -11.34" fill="none" stroke="#000" stroke-width="2.00" stroke-linecap="round" stroke-linejoin="round" shape-rendering="crispEdges"/>
<path transform="translate(694.03 493.90)" d="M-3.99 -11.34 L-9.69 -3.78 L-1.14 -3.78 M-3.99 -11.34 L-3.99 0.00 M7.41 -11.34 L1.71 -3.78 L10.26 -3.78 M7.41 -11.34 L7.41 0.00" fill="none" stroke="#000" stroke-width="2.00" stroke-linecap="round" stroke-linejoin="round" shape-rendering="crispEdges"/>
<path transform="translate(744.86 493.90)" d="M-3.99 -11.34 L-9.69 -3.78 L-1.14 -3.78 M-3.99 -11.34 L-3.99 0.00 M4.56 -11.34 L2.85 -10.80 L2.28 -9.72 L2.28 -8.64 L2.85 -7.56 L3.99 -7.02 L6.27 -6.48 L7.98 -5.94 L9.12 -4.86 L9.69 -3.78 L9.69 -2.16 L9.12 -1.08 L8.55 -0.54 L6.84 0.00 L4.56 0.00 L2.85 -0.54 L2.28 -1.08 L1.71 -2.16 L1.71 -3.78 L2.28 -4.86 L3.42 -5.94 L5.13 -6.48 L7.41 -7.02 L8.55 -7.56 L9.12 -8.64 L9.12 -9.72 L8.55 -10.80 L6.84 -11.34 L4.56 -11.34" fill="none" stroke="#000" stroke-width="2.00" stroke-linecap="round" stroke-linejoin="round" shape-rendering="crispEdges"/>
<path transform="translate(126.80 399.20)" d="M-2.85 -11.34 L-8.55 -11.34 L-9.12 -6.48 L-8.55 -7.02 L-6.84 -7.56 L-5.13 -7.56 L-3.42 -7.02 L-2.28 -5.94 L-1.71 -4.32 L-1.71 -3.24 L-2.28 -1.62 L-3.42 -0.54 L-5.13 0.00 L-6.84 0.00 L-8.55 -0.54 L-9.12 -1.08 L-9.69 -2.16" fill="none" stroke="#000" stroke-width="2.00" stroke-linecap="round" stroke-linejoin="round" shape-rendering="crispEdges"/>
<path transform="translate(126.80 319.40)" d="M-19.38 -9.18 L-18.24 -9.72 L-16.53 -11.34 L-16.53 0.00 M-6.27 -11.34 L-7.98 -10.80 L-9.12 -9.18 L-9.69 -6.48 L-9.69 -4.86 L-9.12 -2.16 L-7.98 -0.54 L-6.27 0.00 L-5.13 0.00 L-3.42 -0.54 L-2.28 -2.16 L-1.71 -4.86 L-1.71 -6.48 L-2.28 -9.18 L-3.42 -10.80 L-5.13 -11.34 L-6.27 -11.34" fill="none" stroke="#000" stroke-width="2.00" stroke-linecap="round" stroke-linejoin="round" shape-rendering="crispEdges"/>
<path transform="translate(126.80 239.60)" d="M-19.38 -9.18 L-18.24 -9.72 L-16.53 -11.34 L-16.53 0.00 M-2.85 -11.34 L-8.55 -11.34 L-9.12 -6.48 L-8.55 -7.02 L-6.84 -7.56 L-5.13 -7.56 L-3.42 -7.02 L-2.28 -5.94 L-1.71 -4.32 L-1.71 -3.24 L-2.28 -1.62 L-3.42 -0.54 L-5.13 0.00 L-6.84 0.00 L-8.55 -0.54 L-9.12 -1.08 L-9.69 -2.16" fill="none" stroke="#000" stroke-width="2.00" stroke-linecap="round" stroke-linejoin="round" shape-rendering="crispEdges"/>
<path transform="translate(810.30 264.00)" d="M3.18 -9.18 L4.24 -9.72 L5.83 -11.34 L5.83 0.00 M14.84 -11.34 L13.25 -10.80 L12.72 -9.72 L12.72 -8.64 L13.25 -7.56 L14.31 -7.02 L16.43 -6.48 L18.02 -5.94 L19.08 -4.86 L19.61 -3.78 L19.61 -2.16 L19.08 -1.08 L18.55 -0.54 L16.96 0.00 L14.84 0.00 L13.25 -0.54 L12.72 -1.08 L12.19 -2.16 L12.19 -3.78 L12.72 -4.86 L13.78 -5.94 L15.37 -6.48 L17.49 -7.02 L18.55 -7.56 L19.08 -8.64 L19.08 -9.72 L18.55 -10.80 L16.96 -11.34 L14.84 -11.34" fill="none" stroke="#000" stroke-width="2.00" stroke-linecap="round" stroke-linejoin="round" shape-rendering="crispEdges"/>
<path transform="translate(810.30 297.90)" d="M3.18 -9.18 L4.24 -9.72 L5.83 -11.34 L5.83 0.00 M12.72 -8.64 L12.72 -9.18 L13.25 -10.26 L13.78 -10.80 L14.84 -11.34 L16.96 -11.34 L18.02 -10.80 L18.55 -10.26 L19.08 -9.18 L19.08 -8.10 L18.55 -7.02 L17.49 -5.40 L12.19 0.00 L19.61 0.00" fill="none" stroke="#000" stroke-width="2.00" stroke-linecap="round" stroke-linejoin="round" shape-rendering="crispEdges"/>
<path transform="translate(810.30 331.80)" d="M8.48 -9.72 L7.95 -10.80 L6.36 -11.34 L5.30 -11.34 L3.71 -10.80 L2.65 -9.18 L2.12 -6.48 L2.12 -3.78 L2.65 -1.62 L3.71 -0.54 L5.30 0.00 L5.83 0.00 L7.42 -0.54 L8.48 -1.62 L9.01 -3.24 L9.01 -3.78 L8.48 -5.40 L7.42 -6.48 L5.83 -7.02 L5.30 -7.02 L3.71 -6.48 L2.65 -5.40 L2.12 -3.78" fill="none" stroke="#000" stroke-width="2.00" stroke-linecap="round" stroke-linejoin="round" shape-rendering="crispEdges"/>
<path transform="translate(810.30 365.70)" d="M4.77 -11.34 L3.18 -10.80 L2.12 -9.18 L1.59 -6.48 L1.59 -4.86 L2.12 -2.16 L3.18 -0.54 L4.77 0.00 L5.83 0.00 L7.42 -0.54 L8.48 -2.16 L9.01 -4.86 L9.01 -6.48 L8.48 -9.18 L7.42 -10.80 L5.83 -11.34 L4.77 -11.34" fill="none" stroke="#000" stroke-width="2.00" stroke-linecap="round" stroke-linejoin="round" shape-rendering="crispEdges"/>
<path transform="translate(810.30 399.60)" d="M2.12 -4.86 L11.13 -4.86 M20.41 -9.72 L19.88 -10.80 L18.29 -11.34 L17.23 -11.34 L15.64 -10.80 L14.58 -9.18 L14.05 -6.48 L14.05 -3.78 L14.58 -1.62 L15.64 -0.54 L17.23 0.00 L17.76 0.00 L19.34 -0.54 L20.41 -1.62 L20.94 -3.24 L20.94 -3.78 L20.41 -5.40 L19.34 -6.48 L17.76 -7.02 L17.23 -7.02 L15.64 -6.48 L14.58 -5.40 L14.05 -3.78" fill="none" stroke="#000" stroke-width="2.00" stroke-linecap="round" stroke-linejoin="round" shape-rendering="crispEdges"/>
<path transform="translate(810.30 433.50)" d="M2.12 -4.86 L11.13 -4.86 M15.11 -9.18 L16.16 -9.72 L17.76 -11.34 L17.76 0.00 M24.65 -8.64 L24.65 -9.18 L25.18 -10.26 L25.71 -10.80 L26.77 -11.34 L28.89 -11.34 L29.95 -10.80 L30.48 -10.26 L31.01 -9.18 L31.01 -8.10 L30.48 -7.02 L29.42 -5.40 L24.12 0.00 L31.54 0.00" fill="none" stroke="#000" stroke-width="2.00" stroke-linecap="round" stroke-linejoin="round" shape-rendering="crispEdges"/>
<path transform="translate(810.30 467.40)" d="M2.12 -4.86 L11.13 -4.86 M15.11 -9.18 L16.16 -9.72 L17.76 -11.34 L17.76 0.00 M26.77 -11.34 L25.18 -10.80 L24.65 -9.72 L24.65 -8.64 L25.18 -7.56 L26.24 -7.02 L28.36 -6.48 L29.95 -5.94 L31.01 -4.86 L31.54 -3.78 L31.54 -2.16 L31.01 -1.08 L30.48 -0.54 L28.89 0.00 L26.77 0.00 L25.18 -0.54 L24.65 -1.08 L24.12 -2.16 L24.12 -3.78 L24.65 -4.86 L25.71 -5.94 L27.30 -6.48 L29.42 -7.02 L30.48 -7.56 L31.01 -8.64 L31.01 -9.72 L30.48 -10.80 L28.89 -11.34 L26.77 -11.34" fill="none" stroke="#000" stroke-width="2.00" stroke-linecap="round" stroke-linejoin="round" shape-rendering="crispEdges"/>
</svg></body></html>
